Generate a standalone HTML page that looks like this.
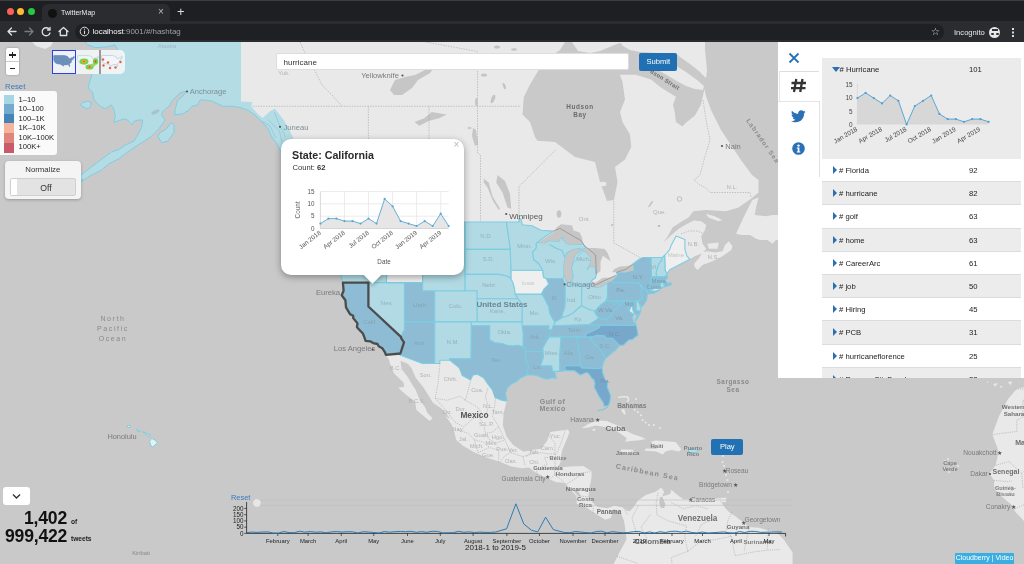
<!DOCTYPE html>
<html><head><meta charset="utf-8">
<style>
*{box-sizing:border-box;margin:0;padding:0}
html,body{width:1024px;height:564px;overflow:hidden;-webkit-font-smoothing:antialiased;background:#c8c8c8;font-family:"Liberation Sans",sans-serif}
.abs{position:absolute}
#chrome{position:absolute;left:0;top:0;width:1024px;height:42px;background:#1e1f22}
#toolbar{position:absolute;left:0;top:21px;width:1024px;height:21px;background:#2b2c2f}
.tl{position:absolute;top:7.5px;width:7px;height:7px;border-radius:50%}
#tab{position:absolute;left:42px;top:4px;width:128px;height:17px;background:#2b2c2f;border-radius:6px 6px 0 0}
#omni{position:absolute;left:75px;top:23.5px;width:869px;height:16px;background:#1f2023;border-radius:8px}
.ctext{color:#e8eaed;font-size:8.5px;position:absolute;white-space:nowrap}
.panel{position:absolute;left:778px;top:42px;width:246px;height:336px;background:#fff}
.row{position:absolute;left:44px;width:199px;height:23.2px;border-bottom:1px solid #dcdcdc;font-size:7.7px;color:#222}
.row.g{background:#ececec}
.row .tri{position:absolute;left:11px;top:7px;width:0;height:0;border-top:4px solid transparent;border-bottom:4px solid transparent;border-left:4.5px solid #2a6fb0}
.row .nm{position:absolute;left:17px;top:7px}
.row .ct{position:absolute;left:147px;top:7px}
.lbl{position:absolute;white-space:nowrap;color:#6e6e6e;font-size:7.5px}
</style></head><body><div style="position:absolute;left:0;top:0;width:1024px;height:564px;will-change:transform">
<svg id="map" width="1024" height="522" viewBox="0 42 1024 522" style="position:absolute;left:0;top:42px">
<rect x="0" y="0" width="1024" height="564" fill="#c9c9c9"/>
<path fill="#e9e9e9" d="M80,30 L85.6,42 L86.9,44.5 L95,47.6 L106,47 L115,45 L121,56 L117,60 L105,62 L96,68 L91.9,74.5 L89.4,83 L88.1,88 L92.5,92 L94,100 L100.25,106.25 L105.25,108.75 L111.5,105 L114,110 L115.25,116.25 L114,122.5 L120.25,120 L125.25,118.75 L129,121.25 L132.1,125 L134,121.25 L139,120 L142.75,120 L141.5,127.5 L139,132.5 L134,141.25 L125.25,145 L119,149.5 L111.5,152 L104,157.5 L97.75,162 L92,166.5 L86,171 L80,176 L77,180.5 L82,181 L90,176 L101.5,170 L109,163.75 L119,158.75 L125.25,153.75 L134,147.5 L144,141.25 L151.5,136.25 L159,128.75 L165.25,120 L161.5,115 L162.75,111.25 L169,106.25 L172.75,100 L180,93 L186.5,91 L183,96 L177.75,100 L175.25,108.75 L174.6,115 L182.75,113.75 L189,110 L192,106.25 L197.5,105 L200,100 L205,100 L212.5,101.25 L222.5,106.25 L232.5,106.25 L240,107.5 L247.5,110 L255,115 L261.25,121.25 L267.5,127.5 L271.25,136 L276,142.5 L280,150 L286,158 L292,165 L300,180 L315,200 L330,215 L338,228 L341,250 L340.8,275.7 L342.9,282.6 L343.6,290.7 L341.7,295.2 L345.4,300.2 L346,307.3 L350.2,314.3 L353.2,315.8 L353.2,318.1 L356.3,321.9 L357.5,323.4 L356.9,327.2 L362.9,333.5 L364.5,337.6 L365.6,340.9 L370.2,341.3 L373.2,343.1 L377.5,344 L378.7,346.3 L382.3,348.2 L385.1,352.6 L385.9,354.9 L389,359.8 L390.8,365.8 L393.9,373.2 L403.5,382.6 L404.2,386.7 L398.2,387.7 L405.4,394.2 L415.1,401.6 L416.3,409.7 L424.8,417 L429.6,421.1 L432.6,418.3 L427.2,412.7 L425.4,407.7 L419.9,400.3 L415.7,390.1 L411.4,383.2 L407.2,376.3 L401.7,369.3 L400.5,360.8 L407.8,363.7 L411.4,367.9 L415.7,377.7 L423.5,387.4 L433.2,403 L441.1,408.3 L450.8,419 L445.6,416 L451.8,424.8 L454.5,432.8 L456.2,439.9 L463.3,446.1 L474,452.3 L486.4,457.6 L500.6,462.1 L511.2,466.5 L521.8,468.3 L528.9,467.4 L536,472.7 L546.7,478 L556.3,482.2 L564.7,482.8 L570.2,489.1 L576.3,495.9 L576.9,503.9 L582.9,505.1 L588.4,508.8 L595.6,513.7 L605.3,519.8 L610.8,518 L613.8,509.1 L620.5,512.5 L624.1,521 L626.6,539.3 L619.9,551.4 L610.8,569.6 L604.7,593.9 L883.5,593.9 L792.6,566.6 L792.6,552.6 L783.5,539.3 L777.4,533.2 L759.3,527.7 L749,527.1 L743.2,522.2 L735,516.1 L729,511.9 L725.9,508.8 L722.3,503.9 L719.9,498.3 L710.8,498.9 L706.5,499.9 L695.6,498.9 L683.5,499.6 L675.6,493.4 L671.4,489.7 L670.2,494 L662.3,496.5 L664.1,491.5 L661.1,487.5 L656.2,491.5 L645.9,494.9 L638.1,500.2 L633.8,506.9 L629.6,511.2 L626.6,510.6 L623.5,507.6 L613.8,505.7 L607.8,508.2 L597.5,506.9 L592.6,502.6 L588.4,496.5 L589.6,487.2 L591.4,477.9 L591.7,471.6 L583.5,465.9 L570.2,466.6 L562.3,467.2 L558.7,465.9 L560.5,462.2 L561.1,455.8 L562.3,449.4 L565.3,443 L569.6,432 L567.8,429.4 L559.3,430.7 L550.2,432 L547.2,440.8 L541.1,448.8 L532,450.1 L523.5,451.7 L513.2,445 L506.6,436.6 L502.9,425.5 L503.5,413.7 L506,403.7 L506.9,400.6 L505.4,393.5 L507.2,388.1 L511.4,383.9 L516.9,381.2 L521.1,377.7 L526.9,374.9 L532,374.6 L538.1,376 L544.1,378.4 L548.4,379.1 L552.6,377.7 L556.3,378.4 L555,372.8 L552.6,371.4 L559.9,371.4 L562.3,371.1 L567.2,370.4 L574.4,370.7 L578.1,373.5 L580.5,374.9 L586.6,372.5 L588.4,373.5 L592,378.4 L593.8,379.8 L595,383.2 L594.4,387.4 L599.3,396.9 L603.5,403 L604.1,406.3 L608.4,405.7 L609.9,401.6 L610.6,395.6 L607.2,386.7 L607.5,383.6 L604.7,378.4 L602.9,373.5 L602,367.8 L603.5,362.3 L605.6,358.3 L611.4,353.3 L615.6,350.1 L619.6,345.3 L623.2,345.3 L629,339.8 L632,339.8 L638.1,335 L636.3,325.3 L635,322.7 L633.2,321.9 L632.6,317.3 L633.5,314.3 L633.2,311.2 L632,305 L635.6,314.6 L639.6,314 L637.5,318.1 L635.6,321.1 L637.5,315 L640.8,310.8 L640.5,308.1 L638.1,301.8 L641.7,307.1 L644.4,303.8 L646.6,300.2 L647.3,295.1 L647.2,293.9 L653.2,293.5 L660.1,290.1 L655,291.1 L660.1,288.1 L664.6,286.7 L667.2,286.3 L671.4,284.6 L670.2,282.2 L667.8,284.2 L665.3,280.2 L667.8,277.7 L666.6,275.5 L667.2,273.8 L669.6,269.8 L674.4,267.3 L681.7,263.5 L689.9,259.2 L695,256 L702,253.5 L699,258 L694,264 L695,267.5 L697.5,270 L702.5,265 L712.5,261.25 L722.5,256.25 L731.25,250 L732.5,246.25 L728.75,241.25 L725,245 L722.5,251.25 L715,252.5 L707.5,251.25 L703.5,252 L706.25,248.75 L702.5,243.75 L701.25,236.25 L705,230 L706.25,225 L701.25,221.25 L693.75,220.6 L685,225 L678.75,228.75 L670,236.25 L666.25,240 L663.5,242.5 L668,236 L672.5,227.5 L680,222.5 L688.5,217.5 L693.5,211.25 L706,210 L726,211.25 L738.5,207.5 L751,198.75 L758.5,192.5 L758.5,180 L752,175 L741,160 L731,145 L721,130 L711,110 L706,96 L704.4,89 L701,104.5 L695,115.4 L685.6,123 L682.5,126.4 L676,122 L674.7,112.3 L673,104.5 L676,96.7 L673,95 L660.6,87.3 L651,79.5 L635.6,74.8 L620,74.8 L622.5,82 L625,99.5 L620,112 L622.5,122 L630,134.5 L631.25,147 L625,159.5 L615,167 L617.5,182 L614,200 L607,201 L600,182 L595,162 L575,157 L565,149.5 L555,142 L537.5,140.75 L535,137 L530,122 L522.5,114.5 L523.75,97 L530,84.5 L537.5,72 L545,60 L560,50 L565,42 L560,30Z M600,30 L620,42 L623,46 L630,50 L640,52 L677,54 L680,57 L690,64 L700,72 L706,78 L707,70 L706,60 L705,50 L705,42 L700,30Z M673,64 L686,72 L697,80 L704,86 L703,90 L695,89 L686,86 L675,80 L665,74 L658,70 L652,66 L662,63Z M572,30 L572,42 L578,51 L590,53 L600,51 L612,46 L622,42 L622,30Z M736,233.75 L743.5,217.5 L752.25,200 L758.5,197.5 L756,207.5 L754.75,215 L766,216.25 L772.5,215 L780,215 L780,240 L776,240 L772.5,243.75 L767.5,240 L760,240 L756,238.75 L750,235 L741.25,235Z M706,213.75 L714.75,216.25 L722.25,220 L718.5,221.25 L708.5,217.5Z M707.5,243.75 L718.75,242.5 L717.5,248.75 L708.75,248.75Z M581.3,428.2 L588.4,424 L594,421.8 L598.3,420.4 L606.8,421.1 L613.9,424 L621,426.8 L626.7,431.1 L633.8,434.6 L640.9,436.7 L645.8,438.9 L639.4,440.3 L630.9,441 L625.2,441.7 L626.7,438.2 L621,433.9 L613.9,429.6 L604,426.8 L595.5,425.4 L588.4,427.5Z M592.5,429 L595,428.8 L595.5,430.5 L593,431Z M650.8,441.7 L655.6,440.5 L668.4,441.4 L675.6,442.1 L681.4,449.4 L678.7,451.4 L671.4,450.1 L665.3,451.4 L662.9,454.5 L656.2,451.4 L644.4,450.7 L645.9,448.5 L656.9,448.8 L654.4,445.6Z M621.1,449.4 L633.2,449.8 L633.8,453 L627.8,453.9 L620.8,451.4Z M720.5,497.7 L726.5,497.7 L725.9,502 L720.5,502.3Z M1016.8,388.7 L1007.7,399.6 L999.2,415.7 L992.3,434.6 L996.8,446.2 L998.6,452 L995.6,465.3 L989.5,473.5 L994.4,481 L993.8,487.8 L995.6,490.3 L1001.7,496.5 L1012.6,505.7 L1015.3,511.9 L1024.1,521 L1030.2,525.3 L1050.1,536.9 L1095.6,533.2 L1095.6,372.8Z M20,30 L32,42 L36,46 L45,49 L51,46 L53,42 L60,30Z M993.2,383.9 L998,382.9 L995,386.7Z M999.9,385.7 L1002.3,386 L1001.1,388.4Z M1007.7,381.9 L1012,381.5 L1010.8,385.3Z M987.1,381.2 L988.3,382.6 L986.8,383.2Z"/>
<clipPath id="akc"><path d="M0,0 L241,0 L241,101.5 L252.5,102 L251.25,106.25 L257.5,113.75 L262.5,118 L270,111.25 L275,108.75 L278.75,113.75 L283.75,120 L288.75,128.75 L293,137.5 L300,160 L0,300Z"/></clipPath>
<path clip-path="url(#akc)" fill="#b4dce5" stroke="#7dcde1" stroke-width="1" d="M80,30 L85.6,42 L86.9,44.5 L95,47.6 L106,47 L115,45 L121,56 L117,60 L105,62 L96,68 L91.9,74.5 L89.4,83 L88.1,88 L92.5,92 L94,100 L100.25,106.25 L105.25,108.75 L111.5,105 L114,110 L115.25,116.25 L114,122.5 L120.25,120 L125.25,118.75 L129,121.25 L132.1,125 L134,121.25 L139,120 L142.75,120 L141.5,127.5 L139,132.5 L134,141.25 L125.25,145 L119,149.5 L111.5,152 L104,157.5 L97.75,162 L92,166.5 L86,171 L80,176 L77,180.5 L82,181 L90,176 L101.5,170 L109,163.75 L119,158.75 L125.25,153.75 L134,147.5 L144,141.25 L151.5,136.25 L159,128.75 L165.25,120 L161.5,115 L162.75,111.25 L169,106.25 L172.75,100 L180,93 L186.5,91 L183,96 L177.75,100 L175.25,108.75 L174.6,115 L182.75,113.75 L189,110 L192,106.25 L197.5,105 L200,100 L205,100 L212.5,101.25 L222.5,106.25 L232.5,106.25 L240,107.5 L247.5,110 L255,115 L261.25,121.25 L267.5,127.5 L271.25,136 L276,142.5 L280,150 L286,158 L292,165 L300,180 L315,200 L330,215 L338,228 L341,250 L340.8,275.7 L342.9,282.6 L343.6,290.7 L341.7,295.2 L345.4,300.2 L346,307.3 L350.2,314.3 L353.2,315.8 L353.2,318.1 L356.3,321.9 L357.5,323.4 L356.9,327.2 L362.9,333.5 L364.5,337.6 L365.6,340.9 L370.2,341.3 L373.2,343.1 L377.5,344 L378.7,346.3 L382.3,348.2 L385.1,352.6 L385.9,354.9 L389,359.8 L390.8,365.8 L393.9,373.2 L403.5,382.6 L404.2,386.7 L398.2,387.7 L405.4,394.2 L415.1,401.6 L416.3,409.7 L424.8,417 L429.6,421.1 L432.6,418.3 L427.2,412.7 L425.4,407.7 L419.9,400.3 L415.7,390.1 L411.4,383.2 L407.2,376.3 L401.7,369.3 L400.5,360.8 L407.8,363.7 L411.4,367.9 L415.7,377.7 L423.5,387.4 L433.2,403 L441.1,408.3 L450.8,419 L445.6,416 L451.8,424.8 L454.5,432.8 L456.2,439.9 L463.3,446.1 L474,452.3 L486.4,457.6 L500.6,462.1 L511.2,466.5 L521.8,468.3 L528.9,467.4 L536,472.7 L546.7,478 L556.3,482.2 L564.7,482.8 L570.2,489.1 L576.3,495.9 L576.9,503.9 L582.9,505.1 L588.4,508.8 L595.6,513.7 L605.3,519.8 L610.8,518 L613.8,509.1 L620.5,512.5 L624.1,521 L626.6,539.3 L619.9,551.4 L610.8,569.6 L604.7,593.9 L883.5,593.9 L792.6,566.6 L792.6,552.6 L783.5,539.3 L777.4,533.2 L759.3,527.7 L749,527.1 L743.2,522.2 L735,516.1 L729,511.9 L725.9,508.8 L722.3,503.9 L719.9,498.3 L710.8,498.9 L706.5,499.9 L695.6,498.9 L683.5,499.6 L675.6,493.4 L671.4,489.7 L670.2,494 L662.3,496.5 L664.1,491.5 L661.1,487.5 L656.2,491.5 L645.9,494.9 L638.1,500.2 L633.8,506.9 L629.6,511.2 L626.6,510.6 L623.5,507.6 L613.8,505.7 L607.8,508.2 L597.5,506.9 L592.6,502.6 L588.4,496.5 L589.6,487.2 L591.4,477.9 L591.7,471.6 L583.5,465.9 L570.2,466.6 L562.3,467.2 L558.7,465.9 L560.5,462.2 L561.1,455.8 L562.3,449.4 L565.3,443 L569.6,432 L567.8,429.4 L559.3,430.7 L550.2,432 L547.2,440.8 L541.1,448.8 L532,450.1 L523.5,451.7 L513.2,445 L506.6,436.6 L502.9,425.5 L503.5,413.7 L506,403.7 L506.9,400.6 L505.4,393.5 L507.2,388.1 L511.4,383.9 L516.9,381.2 L521.1,377.7 L526.9,374.9 L532,374.6 L538.1,376 L544.1,378.4 L548.4,379.1 L552.6,377.7 L556.3,378.4 L555,372.8 L552.6,371.4 L559.9,371.4 L562.3,371.1 L567.2,370.4 L574.4,370.7 L578.1,373.5 L580.5,374.9 L586.6,372.5 L588.4,373.5 L592,378.4 L593.8,379.8 L595,383.2 L594.4,387.4 L599.3,396.9 L603.5,403 L604.1,406.3 L608.4,405.7 L609.9,401.6 L610.6,395.6 L607.2,386.7 L607.5,383.6 L604.7,378.4 L602.9,373.5 L602,367.8 L603.5,362.3 L605.6,358.3 L611.4,353.3 L615.6,350.1 L619.6,345.3 L623.2,345.3 L629,339.8 L632,339.8 L638.1,335 L636.3,325.3 L635,322.7 L633.2,321.9 L632.6,317.3 L633.5,314.3 L633.2,311.2 L632,305 L635.6,314.6 L639.6,314 L637.5,318.1 L635.6,321.1 L637.5,315 L640.8,310.8 L640.5,308.1 L638.1,301.8 L641.7,307.1 L644.4,303.8 L646.6,300.2 L647.3,295.1 L647.2,293.9 L653.2,293.5 L660.1,290.1 L655,291.1 L660.1,288.1 L664.6,286.7 L667.2,286.3 L671.4,284.6 L670.2,282.2 L667.8,284.2 L665.3,280.2 L667.8,277.7 L666.6,275.5 L667.2,273.8 L669.6,269.8 L674.4,267.3 L681.7,263.5 L689.9,259.2 L695,256 L702,253.5 L699,258 L694,264 L695,267.5 L697.5,270 L702.5,265 L712.5,261.25 L722.5,256.25 L731.25,250 L732.5,246.25 L728.75,241.25 L725,245 L722.5,251.25 L715,252.5 L707.5,251.25 L703.5,252 L706.25,248.75 L702.5,243.75 L701.25,236.25 L705,230 L706.25,225 L701.25,221.25 L693.75,220.6 L685,225 L678.75,228.75 L670,236.25 L666.25,240 L663.5,242.5 L668,236 L672.5,227.5 L680,222.5 L688.5,217.5 L693.5,211.25 L706,210 L726,211.25 L738.5,207.5 L751,198.75 L758.5,192.5 L758.5,180 L752,175 L741,160 L731,145 L721,130 L711,110 L706,96 L704.4,89 L701,104.5 L695,115.4 L685.6,123 L682.5,126.4 L676,122 L674.7,112.3 L673,104.5 L676,96.7 L673,95 L660.6,87.3 L651,79.5 L635.6,74.8 L620,74.8 L622.5,82 L625,99.5 L620,112 L622.5,122 L630,134.5 L631.25,147 L625,159.5 L615,167 L617.5,182 L614,200 L607,201 L600,182 L595,162 L575,157 L565,149.5 L555,142 L537.5,140.75 L535,137 L530,122 L522.5,114.5 L523.75,97 L530,84.5 L537.5,72 L545,60 L560,50 L565,42 L560,30Z"/>
<path fill="#b4dce5" stroke="#7dcde1" stroke-width="1" d="M80.25,105 L86.5,108.75 L90.25,107.5 L91.5,102.5 L87.75,101.25 L82.75,102.5Z M157.75,136.25 L161.5,142.5 L167.75,141.25 L174,132.5 L174,125 L171.5,122.5 L166.5,128.75 L160.25,132.5Z M688.4,449.4 L698.1,449.4 L696.9,452.6 L688.4,452.6Z M82,179 L75,182 L70,184 L71,185 L76,183.5 L83,180.5Z M62,187 L55,189 L56,190 L63,188Z M45,192 L38,195 L39,196 L46,193Z"/>
<path fill="#e6f0f2" stroke="#7dcde1" stroke-width="1" d="M149.6,441.7 L151.5,438.2 L155.7,440.5 L157.5,443 L152.7,446.9 L150.8,445.6Z M146,433.7 L150.2,434.6 L150.2,435.9 L147.2,435.9Z M136.3,429.4 L140.2,431.4 L137.5,431.7Z M127.2,425.9 L130.2,425.2 L129.9,427.5 L127.8,427.5Z M142.4,432 L146,432.4 L144.2,433Z"/>
<path fill="#b1dae4" stroke="#7dcde1" stroke-width="1.1" stroke-linejoin="round" d="M339.9,227.7 L348.4,229.3 L351.4,222 L386.4,222 L386.3,245.2 L387.1,248.9 L374.5,248.9 L371.4,249.8 L362.3,251.9 L354.5,252.4 L350.2,248 L344.2,246.5 L343.6,241Z"/>
<path fill="#b1dae4" stroke="#7dcde1" stroke-width="1.1" stroke-linejoin="round" d="M344.2,246.5 L350.2,248 L354.5,252.4 L362.3,251.9 L371.4,249.8 L374.5,248.9 L387.1,248.9 L389.8,252.6 L385.4,263.5 L387.2,267.7 L386.4,282.6 L342.9,282.6 L340.8,275.7 L343.9,261 L344.8,247.1Z"/>
<path fill="#8dbcd4" stroke="#7dcde1" stroke-width="1.1" stroke-linejoin="round" d="M342.9,282.6 L368.4,282.6 L368.4,306.5 L400.9,336.9 L401.3,338.4 L404,342.3 L400.4,353.5 L385.9,354.9 L385.1,352.6 L382.3,348.2 L378.7,346.3 L377.5,344 L373.2,343.1 L370.2,341.3 L365.6,340.9 L364.5,337.6 L362.9,333.5 L356.9,327.2 L357.5,323.4 L356.3,321.9 L353.2,318.1 L353.2,315.8 L350.2,314.3 L346,307.3 L345.4,300.2 L341.7,295.2 L343.6,290.7Z"/>
<path fill="#b1dae4" stroke="#7dcde1" stroke-width="1.1" stroke-linejoin="round" d="M368.4,282.6 L404.5,282.6 L404.5,329.4 L400.9,336.9 L368.4,306.5Z"/>
<path fill="#8dbcd4" stroke="#7dcde1" stroke-width="1.1" stroke-linejoin="round" d="M404.5,282.6 L422.6,282.6 L422.6,290.7 L434.8,290.7 L434.8,321.9 L404.5,321.9Z"/>
<path fill="#8dbcd4" stroke="#7dcde1" stroke-width="1.1" stroke-linejoin="round" d="M404.5,321.9 L434.8,321.9 L434.8,363.5 L422.5,363.5 L399.9,355.1 L400.4,353.5 L404,342.3 L401.3,338.4 L400.9,336.9 L404.5,329.4Z"/>
<path fill="#b1dae4" stroke="#7dcde1" stroke-width="1.1" stroke-linejoin="round" d="M434.8,290.7 L477.2,290.7 L477.2,321.9 L434.8,321.9Z"/>
<path fill="#b1dae4" stroke="#7dcde1" stroke-width="1.1" stroke-linejoin="round" d="M434.8,321.9 L471.4,321.9 L471.4,325.7 L471.1,358.7 L449.5,358.7 L450,360.3 L439.8,360.3 L439.8,363.5 L434.8,363.5Z"/>
<path fill="#b1dae4" stroke="#7dcde1" stroke-width="1.1" stroke-linejoin="round" d="M422.6,257.5 L465.1,257.5 L465.1,290.7 L422.6,290.7Z"/>
<path fill="#efefef" stroke="#7dcde1" stroke-width="1.1" stroke-linejoin="round" d="M386.4,222 L392.3,222 L392.3,231.3 L394.5,236.1 L402.6,243.1 L401.7,252.8 L408.1,258.8 L412,262.7 L422.6,261.8 L422.6,282.6 L386.4,282.6 L387.2,267.7 L385.4,263.5 L389.8,252.6 L387.1,248.9 L386.3,245.2Z"/>
<path fill="#b1dae4" stroke="#7dcde1" stroke-width="1.1" stroke-linejoin="round" d="M392.3,222 L465.1,222 L465.1,257.5 L422.6,257.5 L422.6,261.8 L412,262.7 L408.1,258.8 L401.7,252.8 L402.6,243.1 L394.5,236.1 L392.3,231.3Z"/>
<path fill="#b1dae4" stroke="#7dcde1" stroke-width="1.1" stroke-linejoin="round" d="M465.1,222 L506.4,222 L510.4,249.4 L465.1,249.4Z"/>
<path fill="#b1dae4" stroke="#7dcde1" stroke-width="1.1" stroke-linejoin="round" d="M465.1,249.4 L510.4,249.4 L510.4,255 L511.1,270.2 L511.1,278.6 L506.6,276 L498.7,274.4 L465.1,274.4Z"/>
<path fill="#b1dae4" stroke="#7dcde1" stroke-width="1.1" stroke-linejoin="round" d="M465.1,274.4 L498.7,274.4 L506.6,276 L511.1,278.6 L513.2,283.4 L514.4,288.3 L515.1,293.9 L518,298.7 L477.2,298.7 L477.2,290.7 L465.1,290.7Z"/>
<path fill="#b1dae4" stroke="#7dcde1" stroke-width="1.1" stroke-linejoin="round" d="M477.2,298.7 L518,298.7 L520.5,301.8 L522.3,305.6 L522.2,321.9 L477.2,321.9Z"/>
<path fill="#b1dae4" stroke="#7dcde1" stroke-width="1.1" stroke-linejoin="round" d="M471.4,321.9 L522.2,321.9 L523.4,333.9 L523.1,346.9 L518.1,345.2 L512.6,346.1 L506.6,345.3 L501.7,343.5 L494.4,342.8 L489.6,340.1 L489.6,325.7 L471.4,325.7Z"/>
<path fill="#8dbcd4" stroke="#7dcde1" stroke-width="1.1" stroke-linejoin="round" d="M471.1,358.7 L471.4,325.7 L489.6,325.7 L489.6,340.1 L494.4,342.8 L501.7,343.5 L506.6,345.3 L512.6,346.1 L518.1,345.2 L523.1,346.9 L525.7,347.5 L525.7,358.8 L528.7,366.5 L527.5,371.4 L526.9,374.9 L521.1,377.7 L516.9,381.2 L511.4,383.9 L507.2,388.1 L505.4,393.5 L506.9,400.6 L504.8,401 L499.9,399.6 L495.1,397.6 L492.6,390.1 L487.8,383.9 L483.5,377.7 L477.5,374.2 L473.2,374.9 L470.2,379.8 L462.3,375.6 L459.3,367.9 L450,360.3 L449.5,358.7Z"/>
<path fill="#8dbcd4" stroke="#7dcde1" stroke-width="1.1" stroke-linejoin="round" d="M525.7,351.4 L543.1,351.5 L543.5,357.3 L540.5,365.8 L551.7,365.8 L552.6,371.4 L555,372.8 L556.3,378.4 L552.6,377.7 L548.4,379.1 L544.1,378.4 L538.1,376 L532,374.6 L526.9,374.9 L527.5,371.4 L528.7,366.5 L525.7,358.8Z"/>
<path fill="#8dbcd4" stroke="#7dcde1" stroke-width="1.1" stroke-linejoin="round" d="M522.2,325.7 L549.3,325.7 L548,329.4 L552,329.4 L549.6,336.9 L546.6,341.3 L542.9,347.9 L543.1,351.5 L525.7,351.4 L525.7,347.5 L523.1,346.9 L523.4,333.9Z"/>
<path fill="#b1dae4" stroke="#7dcde1" stroke-width="1.1" stroke-linejoin="round" d="M515.2,294.1 L541.7,293.9 L543.5,296.3 L549,307.3 L549.6,312.7 L553.2,319.6 L555.4,322.3 L552,329.4 L548,329.4 L549.3,325.7 L522.2,325.7 L522.2,321.9 L522.3,305.6 L520.5,301.8 L518,298.7 L515.1,293.9Z"/>
<path fill="#efefef" stroke="#7dcde1" stroke-width="1.1" stroke-linejoin="round" d="M511.1,270.2 L542.8,270.2 L543.5,276.9 L546.3,278.5 L549,284.2 L544.1,289.1 L541.7,293.9 L515.2,294.1 L514.4,288.3 L513.2,283.4 L511.1,278.6Z"/>
<path fill="#b1dae4" stroke="#7dcde1" stroke-width="1.1" stroke-linejoin="round" d="M506.4,222 L519,222 L519,218.4 L521.1,219.2 L522.3,224.7 L532,225.7 L541.1,230.2 L553.2,231.1 L545.4,236.5 L537.5,242.3 L536.3,243.6 L536.3,248 L532.6,252.4 L533.8,259.7 L538.7,263.5 L542.8,270.2 L511.1,270.2 L510.4,255 L510.4,249.4Z"/>
<path fill="#b1dae4" stroke="#7dcde1" stroke-width="1.1" stroke-linejoin="round" d="M537.5,242.3 L547.8,243.6 L555.7,248 L562.3,250.6 L564.7,256.7 L568.4,255 L565.3,261.8 L565.3,266 L564.1,274.4 L563.5,278.5 L546.3,278.5 L543.5,276.9 L542.8,270.2 L538.7,263.5 L533.8,259.7 L532.6,252.4 L536.3,248 L536.3,243.6Z"/>
<path fill="#8dbcd4" stroke="#7dcde1" stroke-width="1.1" stroke-linejoin="round" d="M546.3,278.5 L563.5,278.5 L565.2,285 L565.2,303.8 L564.7,308.1 L562.9,312.7 L561.7,318.1 L555.4,321.9 L553.2,319.6 L549.6,312.7 L549,307.3 L543.5,296.3 L541.7,293.9 L544.1,289.1 L549,284.2Z"/>
<path fill="#b1dae4" stroke="#7dcde1" stroke-width="1.1" stroke-linejoin="round" d="M565.2,284.6 L581.7,284.6 L581.6,305.7 L577.5,308.9 L572.6,313.5 L567.8,315.8 L561.7,318.1 L562.9,312.7 L564.7,308.1 L565.2,303.8Z"/>
<path fill="#b1dae4" stroke="#7dcde1" stroke-width="1.1" stroke-linejoin="round" d="M581.7,285 L589.9,284.8 L595.6,287.5 L600.5,286.7 L607.6,282.8 L607.6,293.6 L607.2,297.9 L605.6,301.8 L600.5,305 L595,311.2 L588.4,309.2 L581.6,305.7Z"/>
<path fill="#b1dae4" stroke="#7dcde1" stroke-width="1.1" stroke-linejoin="round" d="M569.5,284.6 L589.9,284.8 L592,280.2 L595.6,277.7 L596.3,274.4 L595,266.9 L590.2,266 L587.2,269.4 L590.2,263.5 L590.8,257.5 L586.6,252.4 L582.3,250.6 L578.1,255.8 L576.9,259.2 L573.2,261.8 L571.4,268.6 L573.2,276 L571.4,281.8Z"/>
<path fill="#b1dae4" stroke="#7dcde1" stroke-width="1.1" stroke-linejoin="round" d="M547.8,243.6 L555.7,248 L562.3,250.6 L564.7,256.7 L567.2,252.4 L574.4,249.8 L580.5,248.9 L582.3,249.8 L586,248 L583.5,244.5 L581.1,241.9 L571.4,245.4 L564.7,244.5 L562.3,240.1 L563.5,236.1 L558.7,237.9 L556.3,241Z"/>
<path fill="#b1dae4" stroke="#7dcde1" stroke-width="1.1" stroke-linejoin="round" d="M553.2,325.7 L588.5,324.9 L596.9,319.6 L598.9,317.8 L595,313 L595,311.2 L588.4,309.2 L581.6,305.7 L577.5,308.9 L572.6,313.5 L567.8,315.8 L561.7,318.1 L555.4,321.9Z"/>
<path fill="#8dbcd4" stroke="#7dcde1" stroke-width="1.1" stroke-linejoin="round" d="M548.3,336.9 L584.6,336.9 L587.2,333.2 L592,331.3 L598.7,327.9 L600.8,324.9 L588.5,324.9 L553.2,325.7 L552,329.4Z"/>
<path fill="#b1dae4" stroke="#7dcde1" stroke-width="1.1" stroke-linejoin="round" d="M548.3,336.9 L561.1,336.9 L559.5,359.4 L559.9,371.4 L552.6,371.4 L551.7,365.8 L540.5,365.8 L543.5,357.3 L543.1,351.5 L542.9,347.9 L546.6,341.3 L549.6,336.9Z"/>
<path fill="#8dbcd4" stroke="#7dcde1" stroke-width="1.1" stroke-linejoin="round" d="M561.1,336.9 L576.9,336.9 L579.3,352.6 L580.5,365.8 L564.7,365.8 L565.3,370.7 L562.3,371.1 L559.9,371.4 L559.5,359.4Z"/>
<path fill="#8dbcd4" stroke="#7dcde1" stroke-width="1.1" stroke-linejoin="round" d="M576.9,336.9 L592,336.9 L590.5,339.1 L597.5,347.2 L601.7,351.5 L605.6,358.3 L603.5,362.3 L602,367.8 L598.7,368.6 L581.3,367.9 L580.5,365.8 L579.3,352.6Z"/>
<path fill="#77a7cb" stroke="#7dcde1" stroke-width="1.1" stroke-linejoin="round" d="M564.7,365.8 L580.5,365.8 L581.3,367.9 L598.7,368.6 L602,367.8 L602.9,373.5 L604.7,378.4 L607.5,383.6 L607.2,386.7 L610.6,395.6 L609.9,401.6 L608.4,405.7 L604.1,406.3 L603.5,403 L599.3,396.9 L594.4,387.4 L595,383.2 L593.8,379.8 L592,378.4 L588.4,373.5 L586.6,372.5 L580.5,374.9 L578.1,373.5 L574.4,370.7 L567.2,370.4 L565.3,370.7Z"/>
<path fill="#8dbcd4" stroke="#7dcde1" stroke-width="1.1" stroke-linejoin="round" d="M592,336.9 L596.3,335.4 L604.5,335.8 L606,338.4 L612.6,338.4 L619.6,345.3 L615.6,350.1 L611.4,353.3 L605.6,358.3 L601.7,351.5 L597.5,347.2 L590.5,339.1Z"/>
<path fill="#77a7cb" stroke="#7dcde1" stroke-width="1.1" stroke-linejoin="round" d="M584.6,336.9 L592,336.9 L596.3,335.4 L604.5,335.8 L606,338.4 L612.6,338.4 L619.6,345.3 L623.2,345.3 L629,339.8 L632,339.8 L638.1,335 L636.3,325.3 L600.8,324.9 L598.7,327.9 L592,331.3 L587.2,333.2Z"/>
<path fill="#8dbcd4" stroke="#7dcde1" stroke-width="1.1" stroke-linejoin="round" d="M588.5,324.9 L636.3,325.3 L635,322.7 L633.2,321.9 L632.6,317.3 L633.5,314.3 L629,311.2 L628.4,307.3 L625.9,305 L624.6,304.2 L621.1,303.4 L619.9,305.7 L613.8,310.4 L609,318.1 L603.5,319.6 L598.9,317.8 L596.9,319.6Z"/>
<path fill="#8dbcd4" stroke="#7dcde1" stroke-width="1.1" stroke-linejoin="round" d="M639.6,314 L637.5,315 L635,320.4 L635.6,321.1 L637.5,318.1Z"/>
<path fill="#8dbcd4" stroke="#7dcde1" stroke-width="1.1" stroke-linejoin="round" d="M595,313 L598.9,317.8 L603.5,319.6 L609,318.1 L613.8,310.4 L619.9,305.7 L621.1,303.4 L624.6,304.2 L624.1,301.8 L621.1,300.9 L614,300.9 L607.6,300.9 L607.6,293.6 L607.2,297.9 L605.6,301.8 L600.5,305 L595,311.2Z"/>
<path fill="#8dbcd4" stroke="#7dcde1" stroke-width="1.1" stroke-linejoin="round" d="M614,300.9 L636.3,300.9 L636.3,310.8 L640.8,310.8 L639.6,314 L635.6,314.6 L633.2,311.2 L632,305 L629.6,309.6 L629,311.2 L628.4,307.3 L625.9,305 L624.6,304.2 L621.1,300.9 L614,305Z"/>
<path fill="#b1dae4" stroke="#7dcde1" stroke-width="1.1" stroke-linejoin="round" d="M636.3,300.9 L638.7,300.2 L640.5,308.1 L640.8,310.8 L636.3,310.8Z"/>
<path fill="#8dbcd4" stroke="#7dcde1" stroke-width="1.1" stroke-linejoin="round" d="M607.6,282.8 L612.3,280.4 L612.3,282.6 L638.9,282.6 L640.5,286.7 L643,287.8 L640.5,292.3 L642.8,297.5 L638.7,300.2 L636.3,300.9 L607.6,300.9Z"/>
<path fill="#8dbcd4" stroke="#7dcde1" stroke-width="1.1" stroke-linejoin="round" d="M643,287.8 L647.8,290.8 L647.2,293.9 L647.3,295.1 L646.6,300.2 L644.4,303.8 L641.7,307.1 L638.1,301.8 L642.8,297.5 L640.5,292.3Z"/>
<path fill="#8dbcd4" stroke="#7dcde1" stroke-width="1.1" stroke-linejoin="round" d="M612.3,282.6 L638.9,282.6 L643,287.8 L647.8,290.8 L647.2,293.9 L653.2,293.5 L660.1,290.1 L655,291.1 L649.3,290.8 L650.2,289.9 L650.3,282.2 L651.6,276.5 L651.1,257.5 L642.9,257.5 L639.3,259.2 L632.6,264.3 L633.8,270.2 L625.3,272.3 L616.6,272.3 L617.5,275.2 L612.3,280.4Z"/>
<path fill="#b1dae4" stroke="#7dcde1" stroke-width="1.1" stroke-linejoin="round" d="M651.1,257.5 L662.3,257.5 L661.7,260.1 L659,263.5 L656.2,272.7 L656.6,276.6 L651.6,276.5Z"/>
<path fill="#b1dae4" stroke="#7dcde1" stroke-width="1.1" stroke-linejoin="round" d="M656.6,276.6 L663.5,276.9 L666.6,275.5 L667.2,273.8 L665.3,270.2 L664.9,255 L662.3,257.5 L661.7,260.1 L659,263.5 L656.2,272.7Z"/>
<path fill="#efefef" stroke="#7dcde1" stroke-width="1.1" stroke-linejoin="round" d="M664.9,255 L669.6,249.8 L671.1,245.4 L676.1,236.1 L684.9,239.5 L684.9,249.4 L686.9,255.8 L689.9,259.2 L681.7,263.5 L674.4,267.3 L669.6,269.8 L667.2,273.8 L665.3,270.2Z"/>
<path fill="#8dbcd4" stroke="#7dcde1" stroke-width="1.1" stroke-linejoin="round" d="M650.2,282.2 L660.5,282.4 L663,282.4 L664.6,286.7 L667.2,286.3 L671.4,284.6 L670.2,282.2 L667.8,284.2 L665.3,280.2 L667.8,277.7 L666.6,275.5 L663.5,276.9 L656.6,276.6 L651.6,276.5Z"/>
<path fill="#8dbcd4" stroke="#7dcde1" stroke-width="1.1" stroke-linejoin="round" d="M650.2,282.2 L660.5,282.4 L660.1,288.1 L653.8,288.7 L649.3,290.8 L650.2,289.9Z"/>
<path fill="#b1dae4" stroke="#7dcde1" stroke-width="1.1" stroke-linejoin="round" d="M660.5,282.4 L663,282.4 L664.6,286.7 L660.1,288.1Z"/>
<path fill="#b1dae4" d="M538.5,242.4 L545.4,238 L554.1,231.4 L562,231 L570,238 L582.25,244.25 L582.25,246.5 L571,246.5 L560,244 L548,244.5 L538.5,246Z"/>
<path fill="none" stroke="#7dcde1" stroke-width="1.1" d="M582.25,244.25 L571,244.25 L566,243 L562.25,238.6 L564.1,236.75 L560.4,238 L559.1,241.1 L554.75,241.1 L548.5,240.5 L545.4,243 L538.5,242.4"/>
<path fill="#b1dae4" d="M565.3,285.5 L569.5,284.6 L571.4,281.8 L573.2,276 L571.4,268.6 L573.2,261.8 L576.9,259.2 L578.1,255.8 L582.3,250.6 L580.5,248.9 L574.4,249.3 L567.2,252.4 L564.7,256.7 L568.4,255 L565.3,261.8 L565.3,266 L564.1,274.4 L563.5,278.5Z"/>
<path fill="none" stroke="#7dcde1" stroke-width="1.1" d="M567.2,282.8 L564.3,274.8 L563.9,265.5 L565.2,257.6 L568.6,252.2 L573.9,249.6 L579.2,248.9 L580.5,250.2 L575.2,254.9 L572.6,261.5 L571.2,268.2 L572.6,277.5 L569.9,282.8Z"/>
<path fill="#c6c6c6" d="M538.5,242.4 L545.4,238 L554.1,231.4 L556.6,227.4 L561,224.25 L568.5,224.9 L572.25,225.5 L573.5,230.5 L579.75,232.4 L582.25,238 L582.25,244.25 L571,244.25 L566,243 L562.25,238.6 L564.1,236.75 L560.4,238 L559.1,241.1 L554.75,241.1 L548.5,240.5 L545.4,243Z M567.2,282.8 L564.3,274.8 L563.9,265.5 L565.2,257.6 L568.6,252.2 L573.9,249.6 L579.2,248.9 L580.5,250.2 L575.2,254.9 L572.6,261.5 L571.2,268.2 L572.6,277.5 L569.9,282.8Z M582.3,250.6 L586.6,252.4 L590.8,257.5 L590.2,263.5 L587.2,269.4 L590.2,266 L595,266.9 L596.3,274.4 L600.5,271.1 L600.5,261.8 L602.9,255.8 L610.2,261 L610.8,261.8 L607.8,253.2 L604.7,248.9 L595.6,248 L589,248 L586,248Z M589.9,284.8 L595.6,287.5 L600.5,286.7 L607.6,282.8 L612.3,280.4 L617.5,275.2 L609.6,277.7 L602.9,277.7 L595.6,282.6 L592,282.6Z M612,272.3 L616.6,272.3 L625.3,272.3 L633.8,270.2 L632.6,264.3 L627.8,266 L619.9,266.5 L614.4,269Z M497.5,175 L505,181 L510,193.75 L511.25,208.75 L507.5,207.5 L502.5,192.5 L496.25,182.5Z M483.75,178.75 L488.75,182.5 L492.5,196.25 L500,208.75 L498.75,210 L492.5,200 L487.5,187.5 L483.75,182.5Z M390,90 L395,80 L405,77 L415,75 L425,70 L434,68 L430,73 L418,80 L412,88 L402,95 L394,95Z M414.4,122 L424.3,118.3 L431.7,112.1 L439.2,113.3 L446.6,114.6 L439.2,118.3 L429.3,120.8 L419.3,125.8Z M473,128 L476,130 L478,144 L475,146 L472,136Z M573.2,488.4 L576.9,489.7 L581.1,495.9 L579.3,496.5 L575,492.8Z M659.9,497.1 L662.3,497.1 L665.3,503.9 L664.1,508.2 L660.5,507.6 L659.3,503.3Z"/>
<path fill="none" stroke="#a2a2a2" stroke-width=".6" stroke-dasharray="1.4 1.2" d="M253,106.25 L521,106.25 M368.4,106.25 L368.4,140 M429,106.25 L429,140 M420,41 L440,44.6 L477.5,51.5 L477.5,153 L480.5,155 L480.5,221 M555.6,150 L519,186.5 L519,221 M613.8,201 L613.8,243 L625,249 L644,260 M703,100 L706,120 L710,140 L704,160 L700,175 L694,180 L700,185 L706,188 L710,192.5 L750,192.5 L751,197 M681,234 L689,231 L697,231 L702.7,233 M300,42 L306,55 L312,65 L322,85 L332,95 L342,106.25"/>
<path fill="none" stroke="#a0a0a0" stroke-width=".55" stroke-dasharray="1.2 1" d="M439.9,363.5 L438.1,383.2 L435.1,398.3 M471.4,378.4 L467.8,391.5 L465.4,400.3 M435.1,398.3 L447.2,400.3 L459.9,396.2 L465.4,400.3 M435.1,398.3 L446,410.3 L455.1,422.2 M487.8,388.1 L485.4,396.9 L488.4,407 L485.4,416.3 M492.6,390.1 L495.7,397.6 L494.4,407 L492.6,416.3 L498.7,426.8 M465.4,400.3 L477.5,407 L482.3,413.7 L485.4,416.3 M455.1,422.2 L463.5,426.8 L477.5,415 M477.5,415 L483.5,423.6 L485.4,433.3 L492.6,432 L498.7,426.8 M457.5,430.1 L468.4,433.3 L474.4,439.8 L478.1,452.6 M478.1,452.6 L489.6,447.5 L498.7,450.1 L498.7,462.2 M498.7,426.8 L504.8,439.8 L510.8,452.6 L522.9,456.5 L524.7,464.7 M522.9,456.5 L535,453.3 L541.1,452.6 L547.8,453.9 L555,453.9 M547.8,434.6 L555,443 L555,453.9 M565.3,430.1 L562.3,439.8 L556.9,453.3 M485.4,433.3 L489.6,439.8 L495.7,443 L501.7,441.1 L504.8,439.8 M474.4,439.8 L483.5,442.4 L489.6,447.5 M536.9,474.7 L536.9,469.7 L544.1,465.3 L547.2,464.7 L544.7,457.4 L555.4,457.4 L555,453.3 M555.4,453.9 L555,465.9 M555,465.9 L554.4,475.4 L549.6,479.1 M561.1,467.2 L556.3,472.9 L554.4,475.4 M563.5,481.6 L559.3,477.9 L554.4,475.4 M566.6,484.1 L576.3,477.9 L581.7,472.9 L591.4,471.6 M576.3,495.9 L588.4,496.8 M593.2,505.7 L593.2,514.3 M623.5,507.6 L627.8,515.5 M658.1,492.8 L656.2,502.6 L656.9,514.9 L668.4,521 L686.5,525.9 L684.7,536.3 L687.8,551.4 M732,511.9 L727.8,521 L725.9,532 L731.4,536.3 L713.8,539.9 L702.9,539.3 L687.8,551.4 M749,527.1 L744.1,551.4 M768.4,528.3 L767.1,550.2 M731.4,536.3 L735,555.7 L753.2,552 L767.1,550.2 L780.5,549.6 M616.9,556.3 L638.1,563.5 M687.8,551.4 L671.4,557.5 L672.6,569.6 M650.2,514.9 L641.1,527.1 L647.2,539.3 M671.4,502.6 L683.5,508.8 L695.6,505.7 L707.8,508.8 M716.8,518 L701.7,524.1 L695.6,536.3 M638.1,505.7 L632,518 L636.3,533.2 M992.3,434.6 L1016.8,431.4 L1016.8,420.3 L1022.9,417 L1022.9,400.3 L1042.9,400.3 L1042.9,388.7 M1015.6,389 L1042.9,389 M995.6,465.3 L1008.9,461.5 L1021.7,473.5 L1026.5,468.5 M993.8,480.4 L1007.7,481.6 L1012,481 M993.8,487.8 L1012.6,486.6 L1012.6,490.3 L1004.7,496.5 M1021.7,473.5 L1022.9,487.8 L1032,493.4 M1015,508.8 L1028.9,502.6 L1032,511.9 L1025.9,521 M510.8,452.6 L504.8,455.8 L500.5,461.5 M526,456.5 L532,451.4"/>
<g fill="#e9e9e9"><circle cx="945" cy="461" r="1"/><circle cx="948" cy="459" r="1"/><circle cx="951" cy="464" r="1"/><circle cx="955" cy="470" r="1"/><circle cx="949" cy="472" r="1"/><circle cx="958" cy="466" r="1"/><circle cx="944" cy="468" r="1"/><circle cx="722.5" cy="462" r="1"/><circle cx="724" cy="466" r="1"/><circle cx="726" cy="475" r="1"/><circle cx="727.5" cy="480" r="1"/><circle cx="728" cy="492" r="1"/><circle cx="723" cy="456" r="1"/><circle cx="719" cy="452.5" r="1"/><circle cx="712" cy="450" r="1"/><circle cx="634.7" cy="409.7" r="1"/><circle cx="637.8" cy="412.1" r="1"/><circle cx="641" cy="415.3" r="1"/><circle cx="642.6" cy="420.1" r="1"/><circle cx="645.8" cy="422.5" r="1"/><circle cx="649" cy="424.9" r="1"/><circle cx="653.8" cy="424.9" r="1"/><circle cx="660.2" cy="428.1" r="1"/><circle cx="632" cy="405" r="1"/><circle cx="636" cy="399" r="1"/></g>
<path fill="none" stroke="#8a8a8a" stroke-width=".7" d="M553.2,231.1 L559.9,228.4 L581.7,241 L583.5,244.5 L586,247.1 L589.6,249.8 L595.6,255 L596.3,274.4 M592,281.8 L595.6,285 L603.5,281 L616.3,275.2 M616.6,272.3 L625.9,269.4 L632.6,264.3"/>
<circle cx="679.5" cy="199" r="2.3" fill="none" stroke="#aaa" stroke-width=".7"/><ellipse cx="659" cy="226" rx="1.3" ry="1" fill="#b8b8b8"/><ellipse cx="155.5" cy="112" rx="4.5" ry="1.8" transform="rotate(-25 155.5 112)" fill="#a9c4cb"/>
<path d="M618.7,397.4 L623.5,396.6 L627.5,397 L628.7,399 L627.5,401.4" fill="none" stroke="#e9e9e9" stroke-width="1.4" stroke-linecap="round"/>
<path d="M621,409.7 L624.3,408.9 L625.1,412.1 L625.9,414.9 L623.5,413.7 L621.9,411.3Z" fill="#e9e9e9"/>
<path d="M598,410.5 L602.8,409.7 L607.5,407.3" fill="none" stroke="#7fc6dc" stroke-width="1.2" stroke-linecap="round"/>
<g fill="#c4c4c4"><ellipse cx="476.5" cy="102" rx="1.4" ry="4"/><ellipse cx="493" cy="99" rx="1.8" ry="4.5" transform="rotate(20 493 99)"/><ellipse cx="504.3" cy="86" rx="1.2" ry="3.5" transform="rotate(-20 504.3 86)"/><ellipse cx="469.5" cy="128" rx="2" ry="1"/><ellipse cx="484" cy="75" rx="3" ry="1.6"/><ellipse cx="497" cy="47" rx="3" ry="1.5"/><ellipse cx="514" cy="49.5" rx="3" ry="1.2"/><ellipse cx="559" cy="214" rx="2.3" ry="3.8"/><ellipse cx="650.7" cy="204" rx="0.9" ry="3.8" transform="rotate(35 650.7 204)"/><ellipse cx="612" cy="225" rx="1" ry="1.2"/></g><ellipse cx="603" cy="184" rx="3.5" ry="2.2" fill="#e9e9e9"/>
<path d="M268.2,119.8 L279.4,130.9 L281.9,142.1 M274.4,112.3 L279.4,124.7 L285.6,137.1 M262,121 L270,126 L276,138" fill="none" stroke="#8fc6d6" stroke-width=".8"/>
<path fill="none" stroke="#4c4c4c" stroke-width="2.3" stroke-linejoin="round" d="M342.9,282.6 L368.4,282.6 L368.4,306.5 L400.9,336.9 L401.3,338.4 L404,342.3 L400.4,353.5 L385.9,354.9 L385.1,352.6 L382.3,348.2 L378.7,346.3 L377.5,344 L373.2,343.1 L370.2,341.3 L365.6,340.9 L364.5,337.6 L362.9,333.5 L356.9,327.2 L357.5,323.4 L356.3,321.9 L353.2,318.1 L353.2,315.8 L350.2,314.3 L346,307.3 L345.4,300.2 L341.7,295.2 L343.6,290.7Z"/>
<g font-family="Liberation Sans, sans-serif">
<text x="167" y="47.7" font-size="6.2" fill="#9cbcc6" font-weight="normal" letter-spacing="0" text-anchor="middle">Alaska</text>
<text x="208" y="94.2" font-size="7.6" fill="#7b8f96" font-weight="normal" letter-spacing="0" text-anchor="middle">Anchorage</text>
<text x="284" y="74.6" font-size="5.8" fill="#b2b2b2" font-weight="normal" letter-spacing="0" text-anchor="middle">Yuk.</text>
<text x="380" y="78.2" font-size="7.6" fill="#7a7a7a" font-weight="normal" letter-spacing="0" text-anchor="middle">Yellowknife</text>
<text x="296" y="129.5" font-size="7.6" fill="#7b8f96" font-weight="normal" letter-spacing="0" text-anchor="middle">Juneau</text>
<text x="580" y="109.3" font-size="6.4" fill="#6c6c6c" font-weight="bold" letter-spacing="0.6" text-anchor="middle">Hudson</text>
<text x="580" y="116.8" font-size="6.4" fill="#6c6c6c" font-weight="bold" letter-spacing="0.6" text-anchor="middle">Bay</text>
<text x="733" y="148.7" font-size="7.6" fill="#7a7a7a" font-weight="normal" letter-spacing="0" text-anchor="middle">Nain</text>
<text x="526" y="218.9" font-size="8" fill="#555" font-weight="normal" letter-spacing="0" text-anchor="middle">Winnipeg</text>
<text x="584.5" y="220.5" font-size="6" fill="#b2b2b2" font-weight="normal" letter-spacing="0" text-anchor="middle">Ont.</text>
<text x="659.5" y="213.5" font-size="6" fill="#b2b2b2" font-weight="normal" letter-spacing="0" text-anchor="middle">Que.</text>
<text x="732" y="188.5" font-size="6" fill="#b2b2b2" font-weight="normal" letter-spacing="0" text-anchor="middle">N.L.</text>
<text x="693.3" y="246.0" font-size="6" fill="#b2b2b2" font-weight="normal" letter-spacing="0" text-anchor="middle">N.B.</text>
<text x="713.3" y="258.5" font-size="6" fill="#b2b2b2" font-weight="normal" letter-spacing="0" text-anchor="middle">N.S.</text>
<text x="675.8" y="256.5" font-size="6" fill="#c4c4c4" font-weight="normal" letter-spacing="0" text-anchor="middle">Maine</text>
<text x="486.3" y="238.2" font-size="6" fill="#93b0bd" font-weight="normal" letter-spacing="0" text-anchor="middle">N.D.</text>
<text x="488.5" y="261.2" font-size="6" fill="#93b0bd" font-weight="normal" letter-spacing="0" text-anchor="middle">S.D.</text>
<text x="524.6" y="247.8" font-size="6" fill="#93b0bd" font-weight="normal" letter-spacing="0" text-anchor="middle">Minn.</text>
<text x="550.8" y="262.7" font-size="6" fill="#93b0bd" font-weight="normal" letter-spacing="0" text-anchor="middle">Wis.</text>
<text x="583.3" y="261.0" font-size="6" fill="#93b0bd" font-weight="normal" letter-spacing="0" text-anchor="middle">Mich.</text>
<text x="528" y="284.7" font-size="6" fill="#c8c8c8" font-weight="normal" letter-spacing="0" text-anchor="middle">Iowa</text>
<text x="489.4" y="286.6" font-size="6" fill="#93b0bd" font-weight="normal" letter-spacing="0" text-anchor="middle">Nebr.</text>
<text x="386.8" y="305.2" font-size="6" fill="#93b0bd" font-weight="normal" letter-spacing="0" text-anchor="middle">Nev.</text>
<text x="419.4" y="307.2" font-size="6" fill="#88a4b2" font-weight="normal" letter-spacing="0" text-anchor="middle">Utah</text>
<text x="455.6" y="308.2" font-size="6" fill="#93b0bd" font-weight="normal" letter-spacing="0" text-anchor="middle">Colo.</text>
<text x="497.5" y="312.8" font-size="6" fill="#93b0bd" font-weight="normal" letter-spacing="0" text-anchor="middle">Kans.</text>
<text x="369.9" y="324.1" font-size="6" fill="#88a4b2" font-weight="normal" letter-spacing="0" text-anchor="middle">Calif.</text>
<text x="420" y="345.1" font-size="6" fill="#88a4b2" font-weight="normal" letter-spacing="0" text-anchor="middle">Ariz.</text>
<text x="452.8" y="344.2" font-size="6" fill="#93b0bd" font-weight="normal" letter-spacing="0" text-anchor="middle">N.M.</text>
<text x="504.4" y="333.5" font-size="6" fill="#93b0bd" font-weight="normal" letter-spacing="0" text-anchor="middle">Okla.</text>
<text x="496.5" y="362.2" font-size="6" fill="#88a4b2" font-weight="normal" letter-spacing="0" text-anchor="middle">Tex.</text>
<text x="534.5" y="315.2" font-size="6" fill="#93b0bd" font-weight="normal" letter-spacing="0" text-anchor="middle">Mo.</text>
<text x="554.5" y="300.2" font-size="6" fill="#88a4b2" font-weight="normal" letter-spacing="0" text-anchor="middle">Ill.</text>
<text x="572" y="302.2" font-size="6" fill="#93b0bd" font-weight="normal" letter-spacing="0" text-anchor="middle">Ind.</text>
<text x="594.5" y="298.5" font-size="6" fill="#93b0bd" font-weight="normal" letter-spacing="0" text-anchor="middle">Ohio</text>
<text x="578.3" y="320.7" font-size="6" fill="#93b0bd" font-weight="normal" letter-spacing="0" text-anchor="middle">Ky.</text>
<text x="638.3" y="278.5" font-size="6" fill="#7e9aab" font-weight="normal" letter-spacing="0" text-anchor="middle">N.Y.</text>
<text x="654.5" y="268.5" font-size="6" fill="#93b0bd" font-weight="normal" letter-spacing="0" text-anchor="middle">Vt.</text>
<text x="659.5" y="283.0" font-size="6" fill="#7e9aab" font-weight="normal" letter-spacing="0" text-anchor="middle">Mass.</text>
<text x="654.5" y="288.5" font-size="6" fill="#7e9aab" font-weight="normal" letter-spacing="0" text-anchor="middle">Conn.</text>
<text x="620.8" y="292.2" font-size="6" fill="#7e9aab" font-weight="normal" letter-spacing="0" text-anchor="middle">Pa.</text>
<text x="605.8" y="311.7" font-size="6" fill="#7e9aab" font-weight="normal" letter-spacing="0" text-anchor="middle">W.Va.</text>
<text x="619.5" y="319.7" font-size="6" fill="#7e9aab" font-weight="normal" letter-spacing="0" text-anchor="middle">Va.</text>
<text x="629.5" y="306.0" font-size="6" fill="#7e9aab" font-weight="normal" letter-spacing="0" text-anchor="middle">Md.</text>
<text x="535" y="339.0" font-size="6" fill="#88a4b2" font-weight="normal" letter-spacing="0" text-anchor="middle">Ark.</text>
<text x="575" y="332.2" font-size="6" fill="#88a4b2" font-weight="normal" letter-spacing="0" text-anchor="middle">Tenn.</text>
<text x="614.8" y="335.5" font-size="6" fill="#7290a6" font-weight="normal" letter-spacing="0" text-anchor="middle">N.C.</text>
<text x="551.8" y="355.2" font-size="6" fill="#93b0bd" font-weight="normal" letter-spacing="0" text-anchor="middle">Miss.</text>
<text x="569" y="355.2" font-size="6" fill="#88a4b2" font-weight="normal" letter-spacing="0" text-anchor="middle">Ala.</text>
<text x="590" y="359.0" font-size="6" fill="#88a4b2" font-weight="normal" letter-spacing="0" text-anchor="middle">Ga.</text>
<text x="605" y="347.7" font-size="6" fill="#88a4b2" font-weight="normal" letter-spacing="0" text-anchor="middle">S.C.</text>
<text x="537.5" y="369.0" font-size="6" fill="#88a4b2" font-weight="normal" letter-spacing="0" text-anchor="middle">La.</text>
<text x="605.3" y="383.0" font-size="6" fill="#7290a6" font-weight="normal" letter-spacing="0" text-anchor="middle">Fla.</text>
<text x="502" y="306.9" font-size="8" fill="#6a8593" font-weight="bold" letter-spacing="0" text-anchor="middle">United States</text>
<text x="580.6" y="287.1" font-size="7.8" fill="#7a8c96" font-weight="normal" letter-spacing="0" text-anchor="middle">Chicago</text>
<text x="328" y="295.2" font-size="7.6" fill="#7a7a7a" font-weight="normal" letter-spacing="0" text-anchor="middle">Eureka</text>
<text x="354.5" y="351.0" font-size="7.6" fill="#7a7a7a" font-weight="normal" letter-spacing="0" text-anchor="middle">Los Angeles</text>
<text x="395.4" y="369.6" font-size="5.8" fill="#b2b2b2" font-weight="normal" letter-spacing="0" text-anchor="middle">B.C.</text>
<text x="425.7" y="376.9" font-size="5.8" fill="#b2b2b2" font-weight="normal" letter-spacing="0" text-anchor="middle">Son.</text>
<text x="450.6" y="380.7" font-size="5.8" fill="#b2b2b2" font-weight="normal" letter-spacing="0" text-anchor="middle">Chih.</text>
<text x="477.3" y="391.6" font-size="5.8" fill="#b2b2b2" font-weight="normal" letter-spacing="0" text-anchor="middle">Coa.</text>
<text x="460.7" y="410.6" font-size="5.8" fill="#b2b2b2" font-weight="normal" letter-spacing="0" text-anchor="middle">Dur.</text>
<text x="488.2" y="408.3" font-size="5.8" fill="#b2b2b2" font-weight="normal" letter-spacing="0" text-anchor="middle">N.L.</text>
<text x="497.9" y="414.1" font-size="5.8" fill="#b2b2b2" font-weight="normal" letter-spacing="0" text-anchor="middle">Tam.</text>
<text x="447" y="414.1" font-size="5.8" fill="#b2b2b2" font-weight="normal" letter-spacing="0" text-anchor="middle">Sin.</text>
<text x="486.4" y="426.1" font-size="5.8" fill="#b2b2b2" font-weight="normal" letter-spacing="0" text-anchor="middle">S.L.P.</text>
<text x="458" y="430.5" font-size="5.8" fill="#b2b2b2" font-weight="normal" letter-spacing="0" text-anchor="middle">Nay.</text>
<text x="482" y="436.7" font-size="5.8" fill="#b2b2b2" font-weight="normal" letter-spacing="0" text-anchor="middle">Guan.</text>
<text x="555.5" y="438.4" font-size="5.8" fill="#b2b2b2" font-weight="normal" letter-spacing="0" text-anchor="middle">Yuc.</text>
<text x="416.8" y="403.1" font-size="5.8" fill="#b2b2b2" font-weight="normal" letter-spacing="0" text-anchor="middle">B.C.S.</text>
<text x="463.3" y="441.1" font-size="5.8" fill="#b2b2b2" font-weight="normal" letter-spacing="0" text-anchor="middle">Jal.</text>
<text x="497.9" y="439.3" font-size="5.8" fill="#b2b2b2" font-weight="normal" letter-spacing="0" text-anchor="middle">Hgo.</text>
<text x="476.6" y="447.8" font-size="5.8" fill="#b2b2b2" font-weight="normal" letter-spacing="0" text-anchor="middle">Mich.</text>
<text x="491.7" y="444.7" font-size="5.8" fill="#b2b2b2" font-weight="normal" letter-spacing="0" text-anchor="middle">Méx.</text>
<text x="502.3" y="450.9" font-size="5.8" fill="#b2b2b2" font-weight="normal" letter-spacing="0" text-anchor="middle">Pue.</text>
<text x="513" y="451.7" font-size="5.8" fill="#b2b2b2" font-weight="normal" letter-spacing="0" text-anchor="middle">Ver.</text>
<text x="534.3" y="454.4" font-size="5.8" fill="#b2b2b2" font-weight="normal" letter-spacing="0" text-anchor="middle">Tab.</text>
<text x="534.3" y="464.1" font-size="5.8" fill="#b2b2b2" font-weight="normal" letter-spacing="0" text-anchor="middle">Chi.</text>
<text x="547.6" y="450.0" font-size="5.8" fill="#b2b2b2" font-weight="normal" letter-spacing="0" text-anchor="middle">Cam.</text>
<text x="511.2" y="463.3" font-size="5.8" fill="#b2b2b2" font-weight="normal" letter-spacing="0" text-anchor="middle">Oax.</text>
<text x="488.2" y="457.4" font-size="5.8" fill="#b2b2b2" font-weight="normal" letter-spacing="0" text-anchor="middle">Gue.</text>
<text x="474.5" y="417.8" font-size="8.3" fill="#555" font-weight="bold" letter-spacing="0" text-anchor="middle">Mexico</text>
<text x="552.5" y="403.5" font-size="7" fill="#8a8a8a" font-weight="bold" letter-spacing="0.4" text-anchor="middle">Gulf of</text>
<text x="552.5" y="411.3" font-size="7" fill="#8a8a8a" font-weight="bold" letter-spacing="0.4" text-anchor="middle">Mexico</text>
<text x="582" y="422.4" font-size="6.8" fill="#7a7a7a" font-weight="normal" letter-spacing="0" text-anchor="middle">Havana</text>
<text x="615.5" y="431.4" font-size="8" fill="#707070" font-weight="bold" letter-spacing="0" text-anchor="middle">Cuba</text>
<text x="631.8" y="408.2" font-size="6.6" fill="#7c7c7c" font-weight="bold" letter-spacing="0" text-anchor="middle">Bahamas</text>
<text x="733" y="384.3" font-size="6.4" fill="#8a8a8a" font-weight="bold" letter-spacing="0.5" text-anchor="middle">Sargasso</text>
<text x="733" y="392.3" font-size="6.4" fill="#8a8a8a" font-weight="bold" letter-spacing="0.5" text-anchor="middle">Sea</text>
<text x="657" y="447.7" font-size="6" fill="#7c7c7c" font-weight="bold" letter-spacing="0" text-anchor="middle">Haiti</text>
<text x="627.5" y="454.7" font-size="6" fill="#7c7c7c" font-weight="bold" letter-spacing="0" text-anchor="middle">Jamaica</text>
<text x="693" y="449.6" font-size="5.8" fill="#7c7c7c" font-weight="bold" letter-spacing="0" text-anchor="middle">Puerto</text>
<text x="693" y="455.6" font-size="5.8" fill="#7c7c7c" font-weight="bold" letter-spacing="0" text-anchor="middle">Rico</text>
<text x="737" y="472.9" font-size="6.6" fill="#7a7a7a" font-weight="normal" letter-spacing="0" text-anchor="middle">Roseau</text>
<text x="715.5" y="487.4" font-size="6.6" fill="#7a7a7a" font-weight="normal" letter-spacing="0" text-anchor="middle">Bridgetown</text>
<text x="558" y="460.1" font-size="5.8" fill="#7c7c7c" font-weight="bold" letter-spacing="0" text-anchor="middle">Belize</text>
<text x="548" y="470.1" font-size="5.8" fill="#707070" font-weight="bold" letter-spacing="0" text-anchor="middle">Guatemala</text>
<text x="570" y="475.7" font-size="6.2" fill="#707070" font-weight="bold" letter-spacing="0" text-anchor="middle">Honduras</text>
<text x="523.5" y="481.1" font-size="6.4" fill="#7a7a7a" font-weight="normal" letter-spacing="0" text-anchor="middle">Guatemala City</text>
<text x="580.8" y="490.7" font-size="6.2" fill="#707070" font-weight="bold" letter-spacing="0" text-anchor="middle">Nicaragua</text>
<text x="585.5" y="501.0" font-size="6.2" fill="#707070" font-weight="bold" letter-spacing="0" text-anchor="middle">Costa</text>
<text x="585.5" y="507.2" font-size="6.2" fill="#707070" font-weight="bold" letter-spacing="0" text-anchor="middle">Rica</text>
<text x="609" y="513.6" font-size="6.4" fill="#707070" font-weight="bold" letter-spacing="0" text-anchor="middle">Panama</text>
<text x="703" y="502.4" font-size="6.6" fill="#7a7a7a" font-weight="normal" letter-spacing="0" text-anchor="middle">Caracas</text>
<text x="697.5" y="520.5" font-size="8.2" fill="#707070" font-weight="bold" letter-spacing="0" text-anchor="middle">Venezuela</text>
<text x="762.5" y="521.9" font-size="6.6" fill="#7a7a7a" font-weight="normal" letter-spacing="0" text-anchor="middle">Georgetown</text>
<text x="738" y="529.2" font-size="6.2" fill="#707070" font-weight="bold" letter-spacing="0" text-anchor="middle">Guyana</text>
<text x="757.5" y="544.2" font-size="6.2" fill="#7c7c7c" font-weight="bold" letter-spacing="0" text-anchor="middle">Suriname</text>
<text x="652.5" y="543.9" font-size="8" fill="#707070" font-weight="bold" letter-spacing="0" text-anchor="middle">Colombia</text>
<text x="1014" y="408.7" font-size="6.2" fill="#707070" font-weight="bold" letter-spacing="0" text-anchor="middle">Western</text>
<text x="1014" y="416.2" font-size="6.2" fill="#707070" font-weight="bold" letter-spacing="0" text-anchor="middle">Sahara</text>
<text x="980" y="455.2" font-size="6.6" fill="#7a7a7a" font-weight="normal" letter-spacing="0" text-anchor="middle">Nouakchott</text>
<text x="950" y="465.0" font-size="5.6" fill="#7c7c7c" font-weight="bold" letter-spacing="0" text-anchor="middle">Cape</text>
<text x="950" y="471.0" font-size="5.6" fill="#7c7c7c" font-weight="bold" letter-spacing="0" text-anchor="middle">Verde</text>
<text x="979" y="476.4" font-size="6.6" fill="#7a7a7a" font-weight="normal" letter-spacing="0" text-anchor="middle">Dakar</text>
<text x="1006" y="473.5" font-size="7" fill="#707070" font-weight="bold" letter-spacing="0" text-anchor="middle">Senegal</text>
<text x="1005.4" y="490.0" font-size="5.6" fill="#7c7c7c" font-weight="bold" letter-spacing="0" text-anchor="middle">Guinea-</text>
<text x="1005.4" y="495.5" font-size="5.6" fill="#7c7c7c" font-weight="bold" letter-spacing="0" text-anchor="middle">Bissau</text>
<text x="998" y="508.8" font-size="6.6" fill="#7a7a7a" font-weight="normal" letter-spacing="0" text-anchor="middle">Conakry</text>
<text x="1020" y="444.5" font-size="7" fill="#707070" font-weight="bold" letter-spacing="0" text-anchor="middle">Ma</text>
<text x="113" y="321.3" font-size="7" fill="#8a8a8a" font-weight="normal" letter-spacing="1.6" text-anchor="middle">North</text>
<text x="113" y="331.3" font-size="7" fill="#8a8a8a" font-weight="normal" letter-spacing="1.6" text-anchor="middle">Pacific</text>
<text x="113" y="341.3" font-size="7" fill="#8a8a8a" font-weight="normal" letter-spacing="1.6" text-anchor="middle">Ocean</text>
<text x="122" y="438.7" font-size="7.4" fill="#7a7a7a" font-weight="normal" letter-spacing="0" text-anchor="middle">Honolulu</text>
<text x="141" y="555.1" font-size="5.8" fill="#888" font-weight="normal" letter-spacing="0" text-anchor="middle">Kiribati</text>
<text transform="translate(647.5,472) rotate(11)" y="2.5" font-size="7" fill="#8a8a8a" font-weight="bold" letter-spacing="1.2" text-anchor="middle">Caribbean Sea</text>
<text transform="translate(665,79.5) rotate(32)" y="2.1" font-size="5.8" fill="#6c6c6c" font-weight="bold" letter-spacing="0.3" text-anchor="middle">dson Strait</text>
<text transform="translate(763,141) rotate(55)" y="2.3" font-size="6.4" fill="#8a8a8a" font-weight="bold" letter-spacing="1.0" text-anchor="middle">Labrador Sea</text>
<circle cx="187" cy="91.5" r="1.1" fill="#555"/>
<circle cx="402.5" cy="75.5" r="1.1" fill="#555"/>
<circle cx="280" cy="126.8" r="1.1" fill="#555"/>
<circle cx="722" cy="146" r="1.1" fill="#555"/>
<circle cx="506.2" cy="214" r="1.1" fill="#555"/>
<circle cx="564.6" cy="284.3" r="1.1" fill="#555"/>
<circle cx="372.5" cy="349.5" r="1.1" fill="#555"/>
<text x="597" y="422.2" font-size="6" fill="#555" text-anchor="middle">&#9733;</text>
<text x="724.3" y="472.7" font-size="6" fill="#555" text-anchor="middle">&#9733;</text>
<text x="735" y="486.7" font-size="6" fill="#555" text-anchor="middle">&#9733;</text>
<text x="690.5" y="502.2" font-size="6" fill="#555" text-anchor="middle">&#9733;</text>
<text x="743.8" y="524.7" font-size="6" fill="#555" text-anchor="middle">&#9733;</text>
<text x="547" y="479.2" font-size="6" fill="#555" text-anchor="middle">&#9733;</text>
<text x="999.5" y="455.0" font-size="6" fill="#555" text-anchor="middle">&#9733;</text>
<circle cx="990" cy="474" r="1.1" fill="#555"/>
<text x="1013.3" y="508.59999999999997" font-size="6" fill="#555" text-anchor="middle">&#9733;</text>
</g>
</svg>
<div id="chrome">
  <div class="abs" style="left:0;top:0;width:1024px;height:1px;background:#3d3e40"></div>
  <div class="tl" style="left:6.5px;background:#fe5f57"></div>
  <div class="tl" style="left:17.3px;background:#febc2e"></div>
  <div class="tl" style="left:28px;background:#28c840"></div>
  <div id="tab"></div>
  <div class="abs" style="left:48px;top:9px;width:9px;height:9px;border-radius:50%;background:#111"></div>
  <div class="ctext" style="left:61px;top:9.3px;font-size:7px">TwitterMap</div>
  <div class="ctext" style="left:158px;top:6px;font-size:10px;color:#bbb">&#215;</div>
  <div class="ctext" style="left:177px;top:4px;font-size:13px;color:#ddd">+</div>
  <div id="toolbar"></div>
  <div id="omni"></div>
  <svg class="abs" style="left:0;top:21px" width="80" height="21" viewBox="0 0 80 21">
    <g fill="none" stroke="#e0e0e0" stroke-width="1.3" stroke-linecap="round" stroke-linejoin="round">
      <path d="M16 10.5H8 M11.5 7 L8 10.5 L11.5 14"/>
      <path stroke="#7a7a7a" d="M25 10.5H33 M29.5 7 L33 10.5 L29.5 14"/>
      <path d="M49.5 8.5 A4 4 0 1 0 50 12"/><path d="M50 6.5 V9 H47.5"/>
      <path d="M59 10.5 L63.5 6.5 L68 10.5 M60.3 9.5 V14.5 H66.7 V9.5"/>
    </g>
  </svg>
  <svg class="abs" style="left:79px;top:26px" width="11" height="11" viewBox="0 0 11 11"><circle cx="5.5" cy="5.5" r="4.3" fill="none" stroke="#ddd" stroke-width="1"/><path d="M5.5 4.7V8" stroke="#ddd" stroke-width="1.1"/><circle cx="5.5" cy="3.2" r="0.6" fill="#ddd"/></svg>
  <div class="ctext" style="left:92.5px;top:27.3px;font-size:7.95px"><span style="color:#f4f4f4">localhost</span><span style="color:#9aa0a6">:9001/#/hashtag</span></div>
  <div class="ctext" style="left:931px;top:25.5px;font-size:10px;color:#ddd">&#9734;</div>
  <div class="ctext" style="left:954px;top:27.5px;font-size:7.6px">Incognito</div>
  <div class="abs" style="left:989px;top:26.5px;width:11px;height:11px;border-radius:50%;background:#e8e8e8"></div>
  <div class="abs" style="left:991.5px;top:29px;width:6px;height:2px;background:#333"></div>
  <div class="abs" style="left:990.5px;top:33px;width:3px;height:2px;border-radius:1px;background:#333"></div>
  <div class="abs" style="left:995.5px;top:33px;width:3px;height:2px;border-radius:1px;background:#333"></div>
  <div class="abs" style="left:1012px;top:27.5px;width:2px;height:2px;background:#ddd;box-shadow:0 3.5px 0 #ddd,0 7px 0 #ddd"></div>
</div>

<!-- zoom control -->
<div class="abs" style="left:5.5px;top:47.5px;width:13.5px;height:27.5px;background:#fff;border-radius:2px;box-shadow:0 0 2px rgba(0,0,0,.35)"></div>
<div class="abs" style="left:5.5px;top:61.2px;width:13.5px;height:0.6px;background:#ccc"></div>
<div class="abs" style="left:9.2px;top:54.3px;width:6.6px;height:1.3px;background:#222"></div>
<div class="abs" style="left:11.85px;top:51.7px;width:1.3px;height:6.6px;background:#222"></div>
<div class="abs" style="left:9.7px;top:67.7px;width:5.6px;height:1.3px;background:#222"></div>
<!-- thumbnails -->
<div class="abs" style="left:52px;top:50px;width:73px;height:24px;background:#f1f4f6;border-radius:0 5px 5px 0;opacity:.95"></div>
<div class="abs" style="left:99.3px;top:50px;width:1.3px;height:24px;background:#999"></div>
<div class="abs" style="left:52px;top:50px;width:23.6px;height:24px;border:1.5px solid #2f3fe8;background:#eef2f5"></div>
<svg class="abs" style="left:52px;top:50px" width="73" height="24" viewBox="0 0 73 24">
<path d="M1.5,5.842 L2.118,5.512 L12.246,5.512 L14.298,6.058 L16.008,6.862 L16.884,8.656 L18.12,8.506 L19.062,8.05 L19.68,7.642 L20.844,7.642 L21.678,6.358 L22.188,6.562 L22.482,7.744 L21.318,8.356 L21.39,9.244 L19.938,9.826 L19.242,11.506 L19.392,12.292 L18.3,12.91 L17.316,13.93 L17.742,15.928 L17.61,16.534 L17.352,16.57 L16.77,15.436 L16.302,14.542 L15.138,14.416 L14.262,14.476 L14.484,14.896 L13.752,14.896 L12.72,14.686 L12.12,15.064 L11.43,15.802 L11.52,16.228 L10.662,15.598 L10.116,14.854 L9.318,14.98 L8.844,14.728 L8.106,13.81 L7.494,14.002 L6.456,14.002 L5.1,13.498 L4.26,13.486 L3.756,12.832 L3.042,12.646 L2.298,11.278 L1.83,10.204 L1.68,9.148 L1.74,7.852 L1.758,6.982Z" fill="#6a8fba" stroke="#557aa6" stroke-width=".5"/>
<path d="M25.5,5.842 L26.118,5.512 L36.246,5.512 L38.298,6.058 L40.008,6.862 L40.884,8.656 L42.12,8.506 L43.062,8.05 L43.68,7.642 L44.844,7.642 L45.678,6.358 L46.188,6.562 L46.482,7.744 L45.318,8.356 L45.39,9.244 L43.938,9.826 L43.242,11.506 L43.392,12.292 L42.3,12.91 L41.316,13.93 L41.742,15.928 L41.61,16.534 L41.352,16.57 L40.77,15.436 L40.302,14.542 L39.138,14.416 L38.262,14.476 L38.484,14.896 L37.752,14.896 L36.72,14.686 L36.12,15.064 L35.43,15.802 L35.52,16.228 L34.662,15.598 L34.116,14.854 L33.318,14.98 L32.844,14.728 L32.106,13.81 L31.494,14.002 L30.456,14.002 L29.1,13.498 L28.26,13.486 L27.756,12.832 L27.042,12.646 L26.298,11.278 L25.83,10.204 L25.68,9.148 L25.74,7.852 L25.758,6.982Z" fill="#eef5f7" stroke="#a8c4dc" stroke-width=".5"/>
<ellipse cx="32" cy="11.5" rx="4.5" ry="3" fill="#7ad048"/><ellipse cx="32" cy="11.5" rx="2.3" ry="1.5" fill="#f0b030"/><circle cx="32" cy="11.5" r=".8" fill="#e84030"/>
<ellipse cx="37.5" cy="17" rx="4" ry="2.6" fill="#7ad048"/><ellipse cx="37.5" cy="17" rx="1.6" ry="1.2" fill="#e8a030"/><circle cx="37.5" cy="17" r=".8" fill="#e84030"/>
<ellipse cx="43.5" cy="11.5" rx="2.6" ry="3.3" fill="#7ad048"/><circle cx="43.5" cy="11.5" r=".9" fill="#e84030"/><ellipse cx="41" cy="15" rx="2.5" ry="1.5" fill="#9ad868"/>
<path d="M49.5,5.842 L50.118,5.512 L60.246,5.512 L62.298,6.058 L64.008,6.862 L64.884,8.656 L66.12,8.506 L67.062,8.05 L67.68,7.642 L68.844,7.642 L69.678,6.358 L70.188,6.562 L70.482,7.744 L69.318,8.356 L69.39,9.244 L67.938,9.826 L67.242,11.506 L67.392,12.292 L66.3,12.91 L65.316,13.93 L65.742,15.928 L65.61,16.534 L65.352,16.57 L64.77,15.436 L64.302,14.542 L63.138,14.416 L62.262,14.476 L62.484,14.896 L61.752,14.896 L60.72,14.686 L60.12,15.064 L59.43,15.802 L59.52,16.228 L58.662,15.598 L58.116,14.854 L57.318,14.98 L56.844,14.728 L56.106,13.81 L55.494,14.002 L54.456,14.002 L53.1,13.498 L52.26,13.486 L51.756,12.832 L51.042,12.646 L50.298,11.278 L49.83,10.204 L49.68,9.148 L49.74,7.852 L49.758,6.982Z" fill="#f2f6fa" stroke="#9fb6d8" stroke-width=".5"/>
<g fill="#e8603a"><circle cx="51" cy="9.5" r="1.2"/><circle cx="56" cy="12.5" r="1.2"/><circle cx="51.5" cy="15.5" r="1.2"/><circle cx="58" cy="18" r="1.2"/><circle cx="63.5" cy="17.5" r="1.2"/><circle cx="68.5" cy="12" r="1.2"/></g>
</svg>
<div class="abs" style="left:5px;top:81.5px;font-size:7.8px;color:#3a78b8">Reset</div>
<!-- legend -->
<div class="abs" style="left:0;top:91px;width:57px;height:64px;background:rgba(255,255,255,.9);border-radius:0 3px 3px 0"></div>
<div class="abs" style="left:4px;top:94.5px;width:10px;height:10px;background:#a6d6e3"></div>
<div class="abs" style="left:4px;top:104.1px;width:10px;height:10px;background:#72abcf"></div>
<div class="abs" style="left:4px;top:113.7px;width:10px;height:10px;background:#4684b8"></div>
<div class="abs" style="left:4px;top:123.3px;width:10px;height:10px;background:#f5b49c"></div>
<div class="abs" style="left:4px;top:132.9px;width:10px;height:10px;background:#e0857b"></div>
<div class="abs" style="left:4px;top:142.5px;width:10px;height:10px;background:#c95a6b"></div>
<div class="abs" style="left:18.5px;top:94.5px;font-size:7.6px;line-height:9.6px;color:#222">1&#8211;10<br>10&#8211;100<br>100&#8211;1K<br>1K&#8211;10K<br>10K&#8211;100K<br>100K+</div>
<!-- normalize -->
<div class="abs" style="left:5px;top:161px;width:75.6px;height:37.7px;background:#f4f4f4;border-radius:4px;box-shadow:0 1px 3px rgba(0,0,0,.25)"></div>
<div class="abs" style="left:5px;top:164.5px;width:75.6px;text-align:center;font-size:7.8px;color:#333">Normalize</div>
<div class="abs" style="left:10px;top:178px;width:66px;height:17.6px;background:#e3e3e3;border:1px solid #cfcfcf;border-radius:2px"></div>
<div class="abs" style="left:10.5px;top:178.5px;width:6px;height:16.6px;background:#fff"></div>
<div class="abs" style="left:16px;top:182.5px;width:60px;text-align:center;font-size:8.7px;color:#333">Off</div>

<!-- search -->
<div class="abs" style="left:276px;top:53px;width:352.8px;height:17.2px;background:#fff;border:1px solid #ddd;border-radius:2px"></div>
<div class="abs" style="left:283.5px;top:57.5px;font-size:8px;color:#333">hurricane</div>
<div class="abs" style="left:639.4px;top:53px;width:37.7px;height:17.7px;background:#2070b3;border-radius:2px;color:#fff;font-size:7.6px;text-align:center;line-height:17.7px">Submit</div>

<!-- right panel -->
<div class="panel">
  <svg class="abs" style="left:10px;top:10px" width="12" height="12" viewBox="0 0 12 12"><path d="M1.5 1.5L10.5 10.5M10.5 1.5L1.5 10.5" stroke="#2a70b4" stroke-width="1.8"/></svg>
  <div class="abs" style="left:1px;top:28.5px;width:40px;height:0.8px;background:#ddd"></div><div class="abs" style="left:1px;top:28.5px;width:0.8px;height:30px;background:#e4e4e4"></div>
  <div class="abs" style="left:41px;top:59px;width:0.8px;height:76px;background:#e2e2e2"></div>
  <div class="abs" style="left:0;top:59px;width:41px;height:0.8px;background:#e6e6e6"></div>
  <svg class="abs" style="left:12px;top:36px" width="17" height="15" viewBox="0 0 17 15"><path d="M6.3 1L4 14M12.5 1L10.2 14M1.5 5H16M1 10.2H15.5" stroke="#333" stroke-width="2.3"/></svg>
  <svg class="abs" style="left:13px;top:68px" width="15" height="13" viewBox="0 0 24 20"><path fill="#2a70b4" d="M23.6 2.4c-.9.4-1.8.6-2.8.8 1-.6 1.8-1.6 2.1-2.7-.9.6-2 1-3.1 1.2C18.9.7 17.6 0 16.2 0c-2.7 0-4.8 2.2-4.8 4.8 0 .4 0 .8.1 1.1C7.4 5.7 3.9 3.7 1.6.9c-.4.7-.7 1.6-.7 2.4 0 1.7.9 3.2 2.2 4-.8 0-1.5-.2-2.2-.6v.1c0 2.3 1.7 4.3 3.9 4.7-.4.1-.8.2-1.3.2-.3 0-.6 0-.9-.1.6 1.9 2.4 3.3 4.5 3.4-1.7 1.3-3.7 2.1-6 2.1-.4 0-.8 0-1.2-.1 2.1 1.4 4.7 2.2 7.4 2.2 8.9 0 13.7-7.4 13.7-13.7v-.6c1-.7 1.8-1.5 2.4-2.5z"/></svg>
  <svg class="abs" style="left:13.5px;top:100px" width="13" height="13" viewBox="0 0 13 13"><circle cx="6.5" cy="6.5" r="6.3" fill="#2a70b4"/><circle cx="6.5" cy="3.6" r="1.2" fill="#fff"/><path d="M4.8 5.6H7.4V9.6H8.3V10.6H4.8V9.6H5.7V6.6H4.8Z" fill="#fff"/></svg>
  <!-- hurricane block -->
  <div class="abs" style="left:44px;top:16px;width:199px;height:101px;background:#ebebeb"></div>
  <div class="abs" style="left:54px;top:24.5px;width:0;height:0;border-left:4.5px solid transparent;border-right:4.5px solid transparent;border-top:5px solid #2a6fb0"></div>
  <div class="abs" style="left:61.5px;top:23px;font-size:7.7px;color:#222"># Hurricane</div>
  <div class="abs" style="left:191px;top:23px;font-size:7.7px;color:#222">101</div>
  <svg class="abs" style="left:-778px;top:-42px" width="1024" height="564" viewBox="0 0 1024 564">
<path d="M857.4,124.4 L857.4,98.1 L865.6,92.9 L873.8,98.1 L882.0,103.4 L890.2,95.5 L898.4,100.8 L906.6,124.4 L914.8,106.0 L923.0,100.8 L931.2,95.5 L939.4,113.9 L947.6,119.1 L955.8,119.1 L964.0,121.8 L972.2,119.1 L980.4,119.1 L988.6,121.8 L988.6,124.4Z" fill="#d7d7d7"/>
<path d="M857.4,84V124.4" stroke="#ccc" stroke-width=".6"/>
<polyline points="857.4,98.1 865.6,92.9 873.8,98.1 882.0,103.4 890.2,95.5 898.4,100.8 906.6,124.4 914.8,106.0 923.0,100.8 931.2,95.5 939.4,113.9 947.6,119.1 955.8,119.1 964.0,121.8 972.2,119.1 980.4,119.1 988.6,121.8" fill="none" stroke="#4e9fd1" stroke-width=".9"/>
<g fill="#4e9fd1"><circle cx="857.4" cy="98.1" r="1.1"/><circle cx="865.6" cy="92.9" r="1.1"/><circle cx="873.8" cy="98.1" r="1.1"/><circle cx="882.0" cy="103.4" r="1.1"/><circle cx="890.2" cy="95.5" r="1.1"/><circle cx="898.4" cy="100.8" r="1.1"/><circle cx="906.6" cy="124.4" r="1.1"/><circle cx="914.8" cy="106.0" r="1.1"/><circle cx="923.0" cy="100.8" r="1.1"/><circle cx="931.2" cy="95.5" r="1.1"/><circle cx="939.4" cy="113.9" r="1.1"/><circle cx="947.6" cy="119.1" r="1.1"/><circle cx="955.8" cy="119.1" r="1.1"/><circle cx="964.0" cy="121.8" r="1.1"/><circle cx="972.2" cy="119.1" r="1.1"/><circle cx="980.4" cy="119.1" r="1.1"/><circle cx="988.6" cy="121.8" r="1.1"/></g>
<g font-size="6.4" fill="#444" text-anchor="end">
<text x="852.5" y="126.6">0</text>
<text x="852.5" y="113.5">5</text>
<text x="852.5" y="100.3">10</text>
<text x="852.5" y="87.2">15</text>
<text transform="translate(857.9,130.5) rotate(-30)">Jan 2018</text>
<text transform="translate(882.5,130.5) rotate(-30)">Apr 2018</text>
<text transform="translate(907.1,130.5) rotate(-30)">Jul 2018</text>
<text transform="translate(931.7,130.5) rotate(-30)">Oct 2018</text>
<text transform="translate(956.3,130.5) rotate(-30)">Jan 2019</text>
<text transform="translate(980.9,130.5) rotate(-30)">Apr 2019</text>
</g></svg>
  <div class="row" style="top:117px"><div class="tri"></div><div class="nm"># Florida</div><div class="ct">92</div></div>
  <div class="row g" style="top:140.2px"><div class="tri"></div><div class="nm"># hurricane</div><div class="ct">82</div></div>
  <div class="row" style="top:163.4px"><div class="tri"></div><div class="nm"># golf</div><div class="ct">63</div></div>
  <div class="row g" style="top:186.6px"><div class="tri"></div><div class="nm"># home</div><div class="ct">63</div></div>
  <div class="row" style="top:209.8px"><div class="tri"></div><div class="nm"># CareerArc</div><div class="ct">61</div></div>
  <div class="row g" style="top:233px"><div class="tri"></div><div class="nm"># job</div><div class="ct">50</div></div>
  <div class="row" style="top:256.2px"><div class="tri"></div><div class="nm"># Hiring</div><div class="ct">45</div></div>
  <div class="row g" style="top:279.4px"><div class="tri"></div><div class="nm"># PCB</div><div class="ct">31</div></div>
  <div class="row" style="top:302.6px"><div class="tri"></div><div class="nm"># hurricaneflorence</div><div class="ct">25</div></div>
  <div class="row g" style="top:325.8px;height:10.2px;overflow:hidden;border:none"><div class="tri"></div><div class="nm"># PanamaCityBeach</div><div class="ct">22</div></div>
</div>

<div class="abs" style="left:281.3px;top:138.5px;width:182.5px;height:136.7px;background:#fff;border-radius:10px;box-shadow:0 2px 7px rgba(0,0,0,.35)"></div><div class="abs" style="left:366.2px;top:268px;width:13px;height:13px;background:#fff;transform:rotate(45deg);box-shadow:2px 2px 4px rgba(0,0,0,.2)"></div><div class="abs" style="left:355px;top:262px;width:36px;height:13px;background:#fff"></div><div class="abs" style="left:453.5px;top:139px;font-size:10px;color:#b5b5b5">&#215;</div><div class="abs" style="left:292px;top:149px;font-size:10.7px;font-weight:bold;color:#2b2b2b">State: California</div><div class="abs" style="left:292.5px;top:163px;font-size:7.6px;color:#333">Count: <b>62</b></div><svg class="abs" style="left:0;top:0" width="1024" height="564" viewBox="0 0 1024 564">
<g fill="none" stroke="#e4e4e4" stroke-width=".7">
<path d="M320.4,216.2H448.7"/>
<path d="M320.4,203.8H448.7"/>
<path d="M320.4,191.5H448.7"/>
<path d="M344.5,191.5V228.5"/>
<path d="M368.5,191.5V228.5"/>
<path d="M392.6,191.5V228.5"/>
<path d="M416.6,191.5V228.5"/>
<path d="M440.7,191.5V228.5"/>
</g>
<path d="M320.4,228.5 L320.4,223.6 L328.4,218.6 L336.4,218.6 L344.5,221.1 L352.5,221.1 L360.5,223.6 L368.5,218.6 L376.5,223.6 L384.6,198.9 L392.6,206.3 L400.6,221.1 L408.6,223.6 L416.6,226.0 L424.7,221.1 L432.7,226.0 L440.7,213.7 L448.7,226.0 L448.7,228.5Z" fill="#e6e6e6"/>
<path d="M320.4,191.5V228.5H448.7" fill="none" stroke="#c8c8c8" stroke-width=".7"/>
<polyline points="320.4,223.6 328.4,218.6 336.4,218.6 344.5,221.1 352.5,221.1 360.5,223.6 368.5,218.6 376.5,223.6 384.6,198.9 392.6,206.3 400.6,221.1 408.6,223.6 416.6,226.0 424.7,221.1 432.7,226.0 440.7,213.7 448.7,226.0" fill="none" stroke="#5aa6d3" stroke-width=".9"/>
<g fill="#5aa6d3"><circle cx="320.4" cy="223.6" r="1.1"/><circle cx="328.4" cy="218.6" r="1.1"/><circle cx="336.4" cy="218.6" r="1.1"/><circle cx="344.5" cy="221.1" r="1.1"/><circle cx="352.5" cy="221.1" r="1.1"/><circle cx="360.5" cy="223.6" r="1.1"/><circle cx="368.5" cy="218.6" r="1.1"/><circle cx="376.5" cy="223.6" r="1.1"/><circle cx="384.6" cy="198.9" r="1.1"/><circle cx="392.6" cy="206.3" r="1.1"/><circle cx="400.6" cy="221.1" r="1.1"/><circle cx="408.6" cy="223.6" r="1.1"/><circle cx="416.6" cy="226.0" r="1.1"/><circle cx="424.7" cy="221.1" r="1.1"/><circle cx="432.7" cy="226.0" r="1.1"/><circle cx="440.7" cy="213.7" r="1.1"/><circle cx="448.7" cy="226.0" r="1.1"/></g>
<g font-size="6.3" fill="#555" text-anchor="end">
<text x="314.5" y="230.7">0</text>
<text x="314.5" y="218.4">5</text>
<text x="314.5" y="206.0">10</text>
<text x="314.5" y="193.7">15</text>
<text transform="translate(321.4,233.5) rotate(-38)">Jan 2018</text>
<text transform="translate(345.5,233.5) rotate(-38)">Apr 2018</text>
<text transform="translate(369.5,233.5) rotate(-38)">Jul 2018</text>
<text transform="translate(393.6,233.5) rotate(-38)">Oct 2018</text>
<text transform="translate(417.6,233.5) rotate(-38)">Jan 2019</text>
<text transform="translate(441.7,233.5) rotate(-38)">Apr 2019</text>
</g>
<text transform="translate(300.3,210) rotate(-90)" font-size="6.3" fill="#555" text-anchor="middle">Count</text>
<text x="384" y="264" font-size="6.3" fill="#555" text-anchor="middle">Date</text>
</svg>

<!-- play -->
<div class="abs" style="left:711.2px;top:438.5px;width:32.2px;height:16px;background:#2271b4;border-radius:2px;color:#fff;font-size:7.6px;text-align:center;line-height:16px">Play</div>
<!-- bottom left -->
<div class="abs" style="left:3px;top:487px;width:27px;height:17.5px;background:#fff;border-radius:3px"></div>
<svg class="abs" style="left:11px;top:492px" width="11" height="8" viewBox="0 0 11 8"><path d="M2 2.5L5.5 6L9 2.5" fill="none" stroke="#333" stroke-width="1.4"/></svg>
<div class="abs" style="left:24px;top:508.3px;font-size:17.6px;font-weight:bold;color:#111;letter-spacing:-0.2px">1,402</div>
<div class="abs" style="left:71px;top:517.5px;font-size:6.6px;font-weight:bold;color:#222">of</div>
<div class="abs" style="left:5px;top:525.5px;font-size:17.6px;font-weight:bold;color:#111;letter-spacing:-0.2px">999,422</div>
<div class="abs" style="left:71px;top:535px;font-size:6.6px;font-weight:bold;color:#222">tweets</div>
<svg class="abs" style="left:0;top:0" width="1024" height="564" viewBox="0 0 1024 564">
<path d="M253,500H791M253,505.3H791" stroke="#bdbdbd" stroke-width=".6"/>
<circle cx="256.9" cy="503" r="4.3" fill="#e6e6e6" stroke="#c4c4c4" stroke-width=".6"/>
<path d="M246.6,502V533.4H785.6V536.5" fill="none" stroke="#222" stroke-width=".8"/>
<g stroke="#222" stroke-width=".7">
<path d="M244.3,508.4H246.6"/>
<path d="M244.3,514.7H246.6"/>
<path d="M244.3,520.9H246.6"/>
<path d="M244.3,527.2H246.6"/>
<path d="M244.3,533.4H246.6"/>
<path d="M277.8,533.4V536"/>
<path d="M308.1,533.4V536"/>
<path d="M341.25,533.4V536"/>
<path d="M373.75,533.4V536"/>
<path d="M407.5,533.4V536"/>
<path d="M440.3,533.4V536"/>
<path d="M473.1,533.4V536"/>
<path d="M506.9,533.4V536"/>
<path d="M539.5,533.4V536"/>
<path d="M573,533.4V536"/>
<path d="M605,533.4V536"/>
<path d="M639.4,533.4V536"/>
<path d="M672,533.4V536"/>
<path d="M702.5,533.4V536"/>
<path d="M736,533.4V536"/>
<path d="M769,533.4V536"/>
</g><g font-size="6.3" fill="#222" text-anchor="end">
<text x="243.5" y="510.59999999999997">200</text>
<text x="243.5" y="516.9000000000001">150</text>
<text x="243.5" y="523.1">100</text>
<text x="243.5" y="529.4000000000001">50</text>
<text x="243.5" y="535.6">0</text>
</g><g font-size="5.9" fill="#222" text-anchor="middle">
<text x="277.8" y="543">February</text>
<text x="308.1" y="543">March</text>
<text x="341.25" y="543">April</text>
<text x="373.75" y="543">May</text>
<text x="407.5" y="543">June</text>
<text x="440.3" y="543">July</text>
<text x="473.1" y="543">August</text>
<text x="506.9" y="543">September</text>
<text x="539.5" y="543">October</text>
<text x="573" y="543">November</text>
<text x="605" y="543">December</text>
<text x="639.4" y="543">2019</text>
<text x="672" y="543">February</text>
<text x="702.5" y="543">March</text>
<text x="736" y="543">April</text>
<text x="769" y="543">May</text>
</g>
<polyline points="246.6,532.6 251.9,532.1 257.2,532.4 262.5,532.0 267.8,531.9 273.1,533.0 278.4,533.1 283.7,531.5 289.0,532.6 294.3,532.7 299.6,531.2 304.9,532.2 310.2,531.5 315.5,532.2 320.8,531.9 326.1,532.8 331.4,531.9 336.7,531.5 342.0,532.1 347.3,531.7 352.6,531.8 357.9,533.0 363.2,531.7 368.5,532.0 373.8,532.5 379.1,533.0 384.4,531.5 389.7,532.2 395.0,531.7 400.3,531.4 405.6,531.7 410.9,531.3 416.2,532.3 421.5,531.6 426.8,532.3 432.1,531.3 437.4,531.4 442.7,532.9 448.0,532.8 453.3,532.7 458.6,531.3 463.9,532.3 469.2,531.9 474.5,532.5 479.8,532.1 485.1,532.4 490.4,532.4 495.7,532.0 506.6,528.8 515.9,503.8 523.8,524.0 531.6,530.3 537.8,531.9 545.6,517.2 553.4,529.7 564.4,532.5 569.9,532.7 575.2,531.5 580.5,532.0 585.8,532.6 591.1,533.0 596.4,531.5 601.7,531.2 607.0,532.9 612.3,531.6 617.6,532.3 622.9,532.8 628.2,532.5 633.5,531.6 638.8,531.4 644.1,533.0 649.4,531.9 654.7,533.0 660.0,531.7 665.3,532.5 670.6,531.4 675.9,531.2 681.2,532.1 686.5,531.2 691.8,532.5 697.1,533.0 702.4,532.0 707.7,533.0 713.0,532.7 718.3,532.3 723.6,531.9 728.9,532.8 734.2,533.0 739.5,531.5 744.8,532.5 750.1,531.3 755.4,531.4 760.7,532.4 766.0,532.2 771.3,532.1 776.6,531.9 781.9,532.0" fill="none" stroke="#2c7bb6" stroke-width="1"/>
<text x="465" y="549.5" font-size="8" fill="#222">2018-1 to 2019-5</text>
<text x="231" y="499.5" font-size="7.4" fill="#3a78b8">Reset</text>
</svg>
<div class="abs" style="left:955px;top:553px;width:59px;height:10.5px;background:#3aaee0;border-radius:1px;color:#fff;font-size:7px;text-align:center;line-height:10.5px">Cloudberry | Video</div>
</div></body></html>
